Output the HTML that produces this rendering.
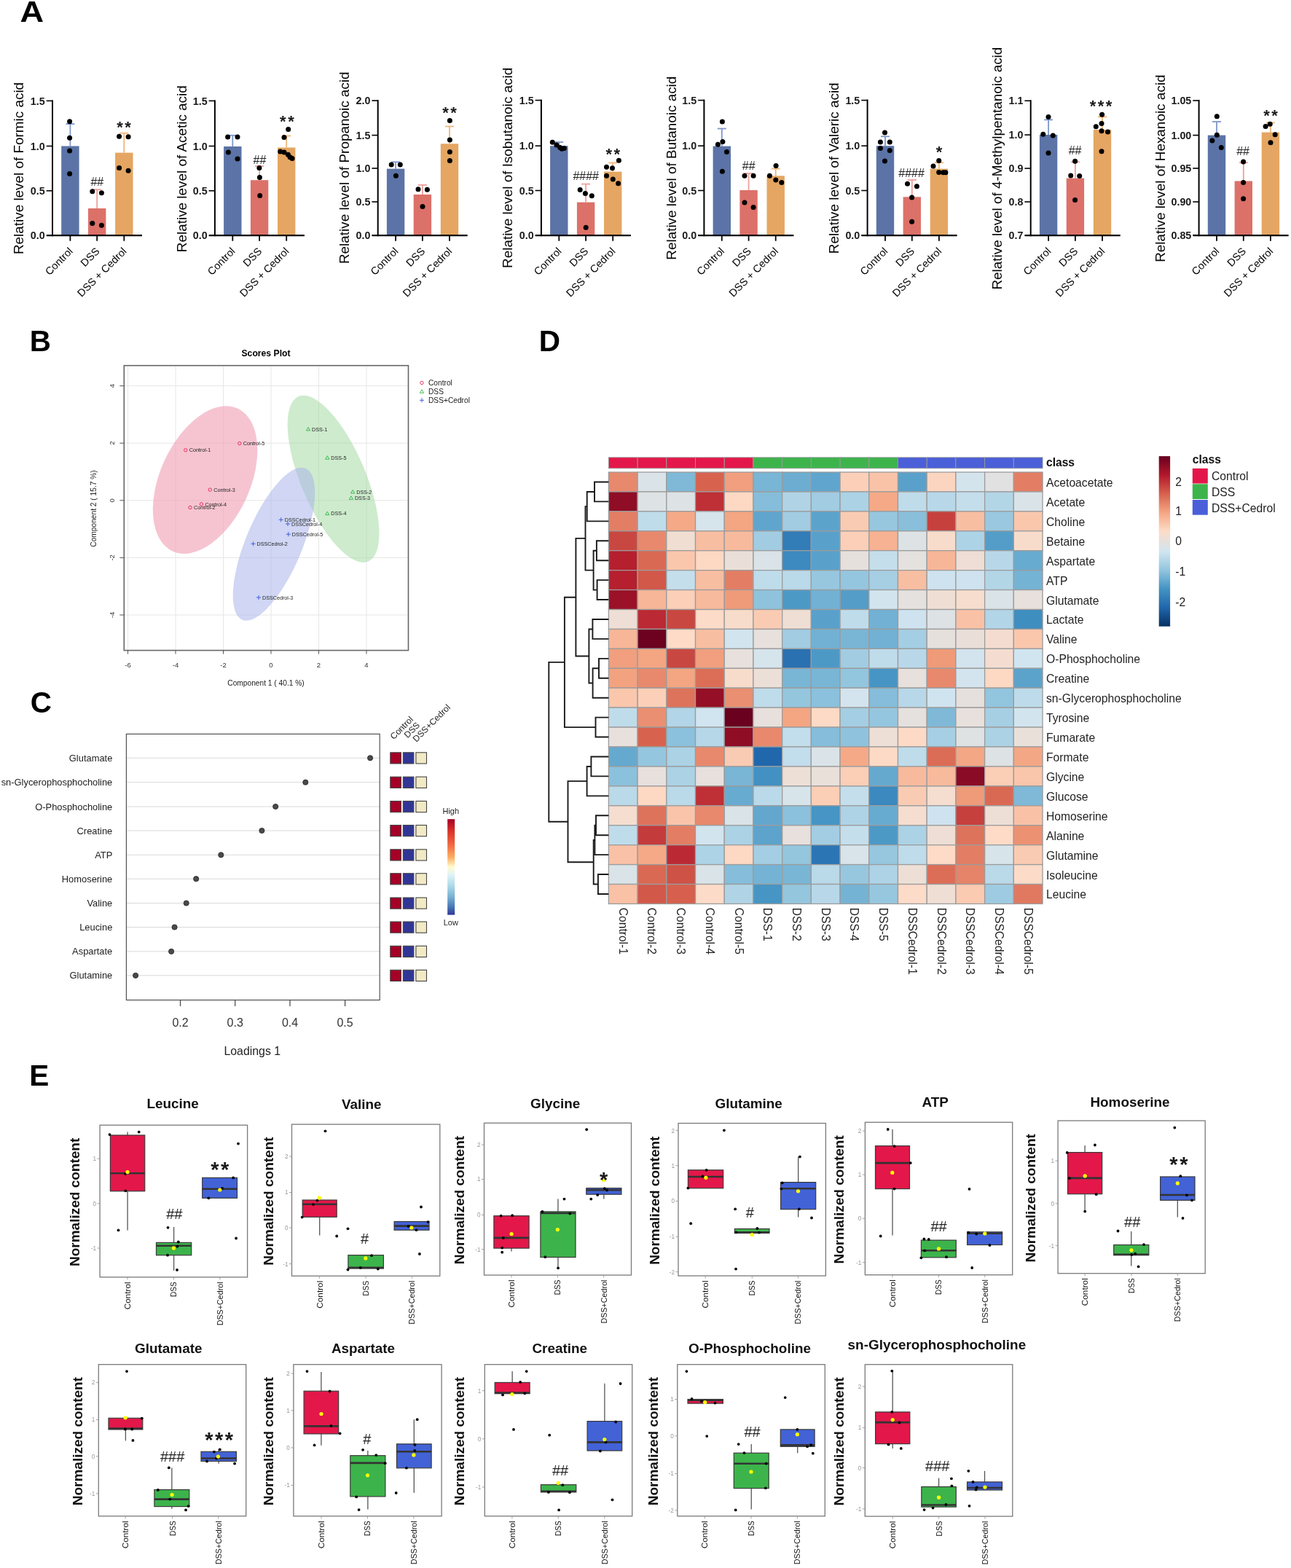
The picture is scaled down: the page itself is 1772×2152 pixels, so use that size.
<!DOCTYPE html>
<html><head><meta charset="utf-8"><title>Figure</title>
<style>html,body{margin:0;padding:0;background:#fff;}svg{display:block;}
text{font-family:'Liberation Sans',Arial,sans-serif;}</style></head>
<body><svg width="1772" height="2152" viewBox="0 0 1772 2152">
<rect width="1772" height="2152" fill="#fff"/>
<text x="27.6" y="29.95" font-size="40.5" font-weight="bold" textLength="32.6" lengthAdjust="spacingAndGlyphs">A</text>
<rect x="84.2" y="200.5" width="24.4" height="122.7" fill="#5b73a6"/>
<rect x="121" y="286" width="24.4" height="37.2" fill="#dc7169"/>
<rect x="158.1" y="209.6" width="24.4" height="113.6" fill="#e4a662"/>
<line x1="96.4" y1="200.5" x2="96.4" y2="170.1" stroke="#7e98cc" stroke-width="1.8"/>
<line x1="90.4" y1="170.1" x2="102.4" y2="170.1" stroke="#7e98cc" stroke-width="1.8"/>
<line x1="133.2" y1="286" x2="133.2" y2="260.2" stroke="#eea09c" stroke-width="1.8"/>
<line x1="127.2" y1="260.2" x2="139.2" y2="260.2" stroke="#eea09c" stroke-width="1.8"/>
<line x1="170.3" y1="209.6" x2="170.3" y2="182.7" stroke="#f1b577" stroke-width="1.8"/>
<line x1="164.3" y1="182.7" x2="176.3" y2="182.7" stroke="#f1b577" stroke-width="1.8"/>
<circle cx="95.6" cy="166.8" r="3.5" fill="#000"/>
<circle cx="95.6" cy="189.3" r="3.5" fill="#000"/>
<circle cx="95.6" cy="207" r="3.5" fill="#000"/>
<circle cx="95.6" cy="238.4" r="3.5" fill="#000"/>
<circle cx="126.8" cy="262.7" r="3.5" fill="#000"/>
<circle cx="139.4" cy="264.7" r="3.5" fill="#000"/>
<circle cx="126.8" cy="306.5" r="3.5" fill="#000"/>
<circle cx="139.4" cy="309.2" r="3.5" fill="#000"/>
<circle cx="163.6" cy="187.3" r="3.5" fill="#000"/>
<circle cx="176.1" cy="187.7" r="3.5" fill="#000"/>
<circle cx="163.6" cy="230.5" r="3.5" fill="#000"/>
<circle cx="176.1" cy="234.3" r="3.5" fill="#000"/>
<line x1="72" y1="137.4" x2="72" y2="324.2" stroke="#000" stroke-width="2"/>
<line x1="64" y1="323.2" x2="195" y2="323.2" stroke="#000" stroke-width="2.2"/>
<line x1="63.7" y1="138.4" x2="72" y2="138.4" stroke="#000" stroke-width="1.6"/>
<text x="61.7" y="143.55" font-size="14.3" text-anchor="end" font-weight="bold" fill="#1a1a1a">1.5</text>
<line x1="63.7" y1="200.5" x2="72" y2="200.5" stroke="#000" stroke-width="1.6"/>
<text x="61.7" y="205.65" font-size="14.3" text-anchor="end" font-weight="bold" fill="#1a1a1a">1.0</text>
<line x1="63.7" y1="261.8" x2="72" y2="261.8" stroke="#000" stroke-width="1.6"/>
<text x="61.7" y="266.95" font-size="14.3" text-anchor="end" font-weight="bold" fill="#1a1a1a">0.5</text>
<line x1="63.7" y1="323.2" x2="72" y2="323.2" stroke="#000" stroke-width="1.6"/>
<text x="61.7" y="328.35" font-size="14.3" text-anchor="end" font-weight="bold" fill="#1a1a1a">0.0</text>
<line x1="96.4" y1="323.2" x2="96.4" y2="330.7" stroke="#000" stroke-width="1.8"/>
<line x1="133.2" y1="323.2" x2="133.2" y2="330.7" stroke="#000" stroke-width="1.8"/>
<line x1="170.3" y1="323.2" x2="170.3" y2="330.7" stroke="#000" stroke-width="1.8"/>
<text transform="translate(100.7 345.7) rotate(-45)" font-size="14.4" text-anchor="end">Control</text>
<text transform="translate(137.5 345.7) rotate(-45)" font-size="14.4" text-anchor="end">DSS</text>
<text transform="translate(174.6 345.7) rotate(-45)" font-size="14.4" text-anchor="end">DSS + Cedrol</text>
<text x="133.3" y="255.26" font-size="16" text-anchor="middle" fill="#222">##</text>
<text x="171.25" y="181.9" font-size="22" text-anchor="middle" font-weight="bold" fill="#1a1a1a" letter-spacing="2.5">**</text>
<text transform="translate(32.41 231) rotate(-90)" font-size="18.9" text-anchor="middle">Relative level of Formic acid</text>
<rect x="307.1" y="201" width="24.4" height="122.2" fill="#5b73a6"/>
<rect x="343.9" y="247.2" width="24.4" height="76" fill="#dc7169"/>
<rect x="381" y="202.5" width="24.4" height="120.7" fill="#e4a662"/>
<line x1="319.3" y1="201" x2="319.3" y2="185.8" stroke="#7e98cc" stroke-width="1.8"/>
<line x1="313.3" y1="185.8" x2="325.3" y2="185.8" stroke="#7e98cc" stroke-width="1.8"/>
<line x1="356.1" y1="247.2" x2="356.1" y2="228" stroke="#eea09c" stroke-width="1.8"/>
<line x1="350.1" y1="228" x2="362.1" y2="228" stroke="#eea09c" stroke-width="1.8"/>
<line x1="393.2" y1="202.5" x2="393.2" y2="186.5" stroke="#f1b577" stroke-width="1.8"/>
<line x1="387.2" y1="186.5" x2="399.2" y2="186.5" stroke="#f1b577" stroke-width="1.8"/>
<circle cx="312.6" cy="188" r="3.5" fill="#000"/>
<circle cx="326" cy="188" r="3.5" fill="#000"/>
<circle cx="313.4" cy="209" r="3.5" fill="#000"/>
<circle cx="326" cy="218.1" r="3.5" fill="#000"/>
<circle cx="355.9" cy="230.6" r="3.5" fill="#000"/>
<circle cx="356.4" cy="243.5" r="3.5" fill="#000"/>
<circle cx="356.7" cy="268.5" r="3.5" fill="#000"/>
<circle cx="395.7" cy="177.4" r="3.5" fill="#000"/>
<circle cx="390" cy="188.5" r="3.5" fill="#000"/>
<circle cx="384.7" cy="208.1" r="3.5" fill="#000"/>
<circle cx="390" cy="209" r="3.5" fill="#000"/>
<circle cx="395.4" cy="212.3" r="3.5" fill="#000"/>
<circle cx="398.1" cy="215.7" r="3.5" fill="#000"/>
<circle cx="401.1" cy="217.6" r="3.5" fill="#000"/>
<line x1="294.9" y1="137.4" x2="294.9" y2="324.2" stroke="#000" stroke-width="2"/>
<line x1="286.9" y1="323.2" x2="417.9" y2="323.2" stroke="#000" stroke-width="2.2"/>
<line x1="286.6" y1="138.4" x2="294.9" y2="138.4" stroke="#000" stroke-width="1.6"/>
<text x="284.6" y="143.55" font-size="14.3" text-anchor="end" font-weight="bold" fill="#1a1a1a">1.5</text>
<line x1="286.6" y1="200.5" x2="294.9" y2="200.5" stroke="#000" stroke-width="1.6"/>
<text x="284.6" y="205.65" font-size="14.3" text-anchor="end" font-weight="bold" fill="#1a1a1a">1.0</text>
<line x1="286.6" y1="261.8" x2="294.9" y2="261.8" stroke="#000" stroke-width="1.6"/>
<text x="284.6" y="266.95" font-size="14.3" text-anchor="end" font-weight="bold" fill="#1a1a1a">0.5</text>
<line x1="286.6" y1="323.2" x2="294.9" y2="323.2" stroke="#000" stroke-width="1.6"/>
<text x="284.6" y="328.35" font-size="14.3" text-anchor="end" font-weight="bold" fill="#1a1a1a">0.0</text>
<line x1="319.3" y1="323.2" x2="319.3" y2="330.7" stroke="#000" stroke-width="1.8"/>
<line x1="356.1" y1="323.2" x2="356.1" y2="330.7" stroke="#000" stroke-width="1.8"/>
<line x1="393.2" y1="323.2" x2="393.2" y2="330.7" stroke="#000" stroke-width="1.8"/>
<text transform="translate(323.6 345.7) rotate(-45)" font-size="14.4" text-anchor="end">Control</text>
<text transform="translate(360.4 345.7) rotate(-45)" font-size="14.4" text-anchor="end">DSS</text>
<text transform="translate(397.5 345.7) rotate(-45)" font-size="14.4" text-anchor="end">DSS + Cedrol</text>
<text x="356.4" y="224.96" font-size="16" text-anchor="middle" fill="#222">##</text>
<text x="395.15" y="174.3" font-size="22" text-anchor="middle" font-weight="bold" fill="#1a1a1a" letter-spacing="2.5">**</text>
<text transform="translate(256.21 231.7) rotate(-90)" font-size="18.9" text-anchor="middle">Relative level of Acetic acid</text>
<rect x="530.9" y="231.6" width="24.4" height="91.6" fill="#5b73a6"/>
<rect x="567.7" y="267" width="24.4" height="56.2" fill="#dc7169"/>
<rect x="604.8" y="197.3" width="24.4" height="125.9" fill="#e4a662"/>
<line x1="543.1" y1="231.6" x2="543.1" y2="222.3" stroke="#7e98cc" stroke-width="1.8"/>
<line x1="537.1" y1="222.3" x2="549.1" y2="222.3" stroke="#7e98cc" stroke-width="1.8"/>
<line x1="579.9" y1="267" x2="579.9" y2="253.9" stroke="#eea09c" stroke-width="1.8"/>
<line x1="573.9" y1="253.9" x2="585.9" y2="253.9" stroke="#eea09c" stroke-width="1.8"/>
<line x1="617" y1="197.3" x2="617" y2="173.5" stroke="#f1b577" stroke-width="1.8"/>
<line x1="611" y1="173.5" x2="623" y2="173.5" stroke="#f1b577" stroke-width="1.8"/>
<circle cx="537.2" cy="226" r="3.5" fill="#000"/>
<circle cx="549.3" cy="226" r="3.5" fill="#000"/>
<circle cx="543.4" cy="241.3" r="3.5" fill="#000"/>
<circle cx="574" cy="259.8" r="3.5" fill="#000"/>
<circle cx="586.4" cy="260.3" r="3.5" fill="#000"/>
<circle cx="580" cy="283.5" r="3.5" fill="#000"/>
<circle cx="617.4" cy="165.5" r="3.5" fill="#000"/>
<circle cx="617.4" cy="192.1" r="3.5" fill="#000"/>
<circle cx="617.4" cy="208.5" r="3.5" fill="#000"/>
<circle cx="617.4" cy="220.6" r="3.5" fill="#000"/>
<line x1="518.7" y1="137.1" x2="518.7" y2="324.2" stroke="#000" stroke-width="2"/>
<line x1="510.7" y1="323.2" x2="641.7" y2="323.2" stroke="#000" stroke-width="2.2"/>
<line x1="510.4" y1="138.1" x2="518.7" y2="138.1" stroke="#000" stroke-width="1.6"/>
<text x="508.4" y="143.25" font-size="14.3" text-anchor="end" font-weight="bold" fill="#1a1a1a">2.0</text>
<line x1="510.4" y1="185.6" x2="518.7" y2="185.6" stroke="#000" stroke-width="1.6"/>
<text x="508.4" y="190.75" font-size="14.3" text-anchor="end" font-weight="bold" fill="#1a1a1a">1.5</text>
<line x1="510.4" y1="231" x2="518.7" y2="231" stroke="#000" stroke-width="1.6"/>
<text x="508.4" y="236.15" font-size="14.3" text-anchor="end" font-weight="bold" fill="#1a1a1a">1.0</text>
<line x1="510.4" y1="277" x2="518.7" y2="277" stroke="#000" stroke-width="1.6"/>
<text x="508.4" y="282.15" font-size="14.3" text-anchor="end" font-weight="bold" fill="#1a1a1a">0.5</text>
<line x1="510.4" y1="322.9" x2="518.7" y2="322.9" stroke="#000" stroke-width="1.6"/>
<text x="508.4" y="328.05" font-size="14.3" text-anchor="end" font-weight="bold" fill="#1a1a1a">0.0</text>
<line x1="543.1" y1="323.2" x2="543.1" y2="330.7" stroke="#000" stroke-width="1.8"/>
<line x1="579.9" y1="323.2" x2="579.9" y2="330.7" stroke="#000" stroke-width="1.8"/>
<line x1="617" y1="323.2" x2="617" y2="330.7" stroke="#000" stroke-width="1.8"/>
<text transform="translate(547.4 345.7) rotate(-45)" font-size="14.4" text-anchor="end">Control</text>
<text transform="translate(584.2 345.7) rotate(-45)" font-size="14.4" text-anchor="end">DSS</text>
<text transform="translate(621.3 345.7) rotate(-45)" font-size="14.4" text-anchor="end">DSS + Cedrol</text>
<text x="618.25" y="162.4" font-size="22" text-anchor="middle" font-weight="bold" fill="#1a1a1a" letter-spacing="2.5">**</text>
<text transform="translate(479.31 230.3) rotate(-90)" font-size="18.9" text-anchor="middle">Relative level of Propanoic acid</text>
<rect x="755.1" y="200.2" width="24.4" height="123" fill="#5b73a6"/>
<rect x="791.9" y="277.6" width="24.4" height="45.6" fill="#dc7169"/>
<rect x="829" y="235.6" width="24.4" height="87.6" fill="#e4a662"/>
<line x1="767.3" y1="200.2" x2="767.3" y2="195" stroke="#7e98cc" stroke-width="1.8"/>
<line x1="761.3" y1="195" x2="773.3" y2="195" stroke="#7e98cc" stroke-width="1.8"/>
<line x1="804.1" y1="277.6" x2="804.1" y2="252.6" stroke="#eea09c" stroke-width="1.8"/>
<line x1="798.1" y1="252.6" x2="810.1" y2="252.6" stroke="#eea09c" stroke-width="1.8"/>
<line x1="841.2" y1="235.6" x2="841.2" y2="223.5" stroke="#f1b577" stroke-width="1.8"/>
<line x1="835.2" y1="223.5" x2="847.2" y2="223.5" stroke="#f1b577" stroke-width="1.8"/>
<circle cx="758.3" cy="195.3" r="3.5" fill="#000"/>
<circle cx="763.9" cy="199" r="3.5" fill="#000"/>
<circle cx="768.7" cy="202.6" r="3.5" fill="#000"/>
<circle cx="774.4" cy="203.4" r="3.5" fill="#000"/>
<circle cx="771.2" cy="204.2" r="3.5" fill="#000"/>
<circle cx="796.2" cy="260.6" r="3.5" fill="#000"/>
<circle cx="803.4" cy="265.5" r="3.5" fill="#000"/>
<circle cx="812.3" cy="268.7" r="3.5" fill="#000"/>
<circle cx="804.2" cy="312.3" r="3.5" fill="#000"/>
<circle cx="832.5" cy="229.2" r="3.5" fill="#000"/>
<circle cx="840.5" cy="230.8" r="3.5" fill="#000"/>
<circle cx="849.4" cy="220.3" r="3.5" fill="#000"/>
<circle cx="832.5" cy="241.3" r="3.5" fill="#000"/>
<circle cx="841.3" cy="246.1" r="3.5" fill="#000"/>
<circle cx="848.6" cy="251.8" r="3.5" fill="#000"/>
<line x1="742.9" y1="136.6" x2="742.9" y2="324.2" stroke="#000" stroke-width="2"/>
<line x1="734.9" y1="323.2" x2="865.9" y2="323.2" stroke="#000" stroke-width="2.2"/>
<line x1="734.6" y1="137.6" x2="742.9" y2="137.6" stroke="#000" stroke-width="1.6"/>
<text x="732.6" y="142.75" font-size="14.3" text-anchor="end" font-weight="bold" fill="#1a1a1a">1.5</text>
<line x1="734.6" y1="200.2" x2="742.9" y2="200.2" stroke="#000" stroke-width="1.6"/>
<text x="732.6" y="205.35" font-size="14.3" text-anchor="end" font-weight="bold" fill="#1a1a1a">1.0</text>
<line x1="734.6" y1="261.5" x2="742.9" y2="261.5" stroke="#000" stroke-width="1.6"/>
<text x="732.6" y="266.65" font-size="14.3" text-anchor="end" font-weight="bold" fill="#1a1a1a">0.5</text>
<line x1="734.6" y1="322.9" x2="742.9" y2="322.9" stroke="#000" stroke-width="1.6"/>
<text x="732.6" y="328.05" font-size="14.3" text-anchor="end" font-weight="bold" fill="#1a1a1a">0.0</text>
<line x1="767.3" y1="323.2" x2="767.3" y2="330.7" stroke="#000" stroke-width="1.8"/>
<line x1="804.1" y1="323.2" x2="804.1" y2="330.7" stroke="#000" stroke-width="1.8"/>
<line x1="841.2" y1="323.2" x2="841.2" y2="330.7" stroke="#000" stroke-width="1.8"/>
<text transform="translate(771.6 345.7) rotate(-45)" font-size="14.4" text-anchor="end">Control</text>
<text transform="translate(808.4 345.7) rotate(-45)" font-size="14.4" text-anchor="end">DSS</text>
<text transform="translate(845.5 345.7) rotate(-45)" font-size="14.4" text-anchor="end">DSS + Cedrol</text>
<text x="804.2" y="247.06" font-size="16" text-anchor="middle" fill="#222">####</text>
<text x="842.55" y="218.8" font-size="22" text-anchor="middle" font-weight="bold" fill="#1a1a1a" letter-spacing="2.5">**</text>
<text transform="translate(702.62 230.4) rotate(-90)" font-size="18.9" text-anchor="middle">Relative level of Isobutanoic acid</text>
<rect x="978.6" y="200.6" width="24.4" height="122.6" fill="#5b73a6"/>
<rect x="1015.4" y="261" width="24.4" height="62.2" fill="#dc7169"/>
<rect x="1052.5" y="241.3" width="24.4" height="81.9" fill="#e4a662"/>
<line x1="990.8" y1="200.6" x2="990.8" y2="176.5" stroke="#7e98cc" stroke-width="1.8"/>
<line x1="984.8" y1="176.5" x2="996.8" y2="176.5" stroke="#7e98cc" stroke-width="1.8"/>
<line x1="1027.6" y1="261" x2="1027.6" y2="238" stroke="#eea09c" stroke-width="1.8"/>
<line x1="1021.6" y1="238" x2="1033.6" y2="238" stroke="#eea09c" stroke-width="1.8"/>
<line x1="1064.7" y1="241.3" x2="1064.7" y2="231.6" stroke="#f1b577" stroke-width="1.8"/>
<line x1="1058.7" y1="231.6" x2="1070.7" y2="231.6" stroke="#f1b577" stroke-width="1.8"/>
<circle cx="991.4" cy="167.1" r="3.5" fill="#000"/>
<circle cx="985.4" cy="198.2" r="3.5" fill="#000"/>
<circle cx="991.9" cy="194.5" r="3.5" fill="#000"/>
<circle cx="997.5" cy="208.5" r="3.5" fill="#000"/>
<circle cx="991.4" cy="235.2" r="3.5" fill="#000"/>
<circle cx="1022" cy="241.3" r="3.5" fill="#000"/>
<circle cx="1034.1" cy="241.3" r="3.5" fill="#000"/>
<circle cx="1022" cy="278.1" r="3.5" fill="#000"/>
<circle cx="1034.1" cy="284.5" r="3.5" fill="#000"/>
<circle cx="1065.1" cy="227.6" r="3.5" fill="#000"/>
<circle cx="1056.4" cy="241.3" r="3.5" fill="#000"/>
<circle cx="1064.8" cy="246.9" r="3.5" fill="#000"/>
<circle cx="1072.8" cy="250.6" r="3.5" fill="#000"/>
<line x1="966.4" y1="136.6" x2="966.4" y2="324.2" stroke="#000" stroke-width="2"/>
<line x1="958.4" y1="323.2" x2="1089.4" y2="323.2" stroke="#000" stroke-width="2.2"/>
<line x1="958.1" y1="137.6" x2="966.4" y2="137.6" stroke="#000" stroke-width="1.6"/>
<text x="956.1" y="142.75" font-size="14.3" text-anchor="end" font-weight="bold" fill="#1a1a1a">1.5</text>
<line x1="958.1" y1="200.2" x2="966.4" y2="200.2" stroke="#000" stroke-width="1.6"/>
<text x="956.1" y="205.35" font-size="14.3" text-anchor="end" font-weight="bold" fill="#1a1a1a">1.0</text>
<line x1="958.1" y1="261.5" x2="966.4" y2="261.5" stroke="#000" stroke-width="1.6"/>
<text x="956.1" y="266.65" font-size="14.3" text-anchor="end" font-weight="bold" fill="#1a1a1a">0.5</text>
<line x1="958.1" y1="322.9" x2="966.4" y2="322.9" stroke="#000" stroke-width="1.6"/>
<text x="956.1" y="328.05" font-size="14.3" text-anchor="end" font-weight="bold" fill="#1a1a1a">0.0</text>
<line x1="990.8" y1="323.2" x2="990.8" y2="330.7" stroke="#000" stroke-width="1.8"/>
<line x1="1027.6" y1="323.2" x2="1027.6" y2="330.7" stroke="#000" stroke-width="1.8"/>
<line x1="1064.7" y1="323.2" x2="1064.7" y2="330.7" stroke="#000" stroke-width="1.8"/>
<text transform="translate(995.1 345.7) rotate(-45)" font-size="14.4" text-anchor="end">Control</text>
<text transform="translate(1031.9 345.7) rotate(-45)" font-size="14.4" text-anchor="end">DSS</text>
<text transform="translate(1069 345.7) rotate(-45)" font-size="14.4" text-anchor="end">DSS + Cedrol</text>
<text x="1027.7" y="233.36" font-size="16" text-anchor="middle" fill="#222">##</text>
<text transform="translate(927.82 230.7) rotate(-90)" font-size="18.9" text-anchor="middle">Relative level of Butanoic acid</text>
<rect x="1202.8" y="200.2" width="24.4" height="123" fill="#5b73a6"/>
<rect x="1239.6" y="270.3" width="24.4" height="52.9" fill="#dc7169"/>
<rect x="1276.7" y="231.6" width="24.4" height="91.6" fill="#e4a662"/>
<line x1="1215" y1="200.2" x2="1215" y2="187.3" stroke="#7e98cc" stroke-width="1.8"/>
<line x1="1209" y1="187.3" x2="1221" y2="187.3" stroke="#7e98cc" stroke-width="1.8"/>
<line x1="1251.8" y1="270.3" x2="1251.8" y2="247" stroke="#eea09c" stroke-width="1.8"/>
<line x1="1245.8" y1="247" x2="1257.8" y2="247" stroke="#eea09c" stroke-width="1.8"/>
<line x1="1288.9" y1="231.6" x2="1288.9" y2="223.2" stroke="#f1b577" stroke-width="1.8"/>
<line x1="1282.9" y1="223.2" x2="1294.9" y2="223.2" stroke="#f1b577" stroke-width="1.8"/>
<circle cx="1214.5" cy="182.1" r="3.5" fill="#000"/>
<circle cx="1208.4" cy="195" r="3.5" fill="#000"/>
<circle cx="1221.3" cy="195" r="3.5" fill="#000"/>
<circle cx="1208.4" cy="203.4" r="3.5" fill="#000"/>
<circle cx="1221.3" cy="206.6" r="3.5" fill="#000"/>
<circle cx="1214.5" cy="221.1" r="3.5" fill="#000"/>
<circle cx="1245.5" cy="252.3" r="3.5" fill="#000"/>
<circle cx="1258.4" cy="255.8" r="3.5" fill="#000"/>
<circle cx="1251.6" cy="271.1" r="3.5" fill="#000"/>
<circle cx="1251.6" cy="304.2" r="3.5" fill="#000"/>
<circle cx="1281" cy="228.1" r="3.5" fill="#000"/>
<circle cx="1288.7" cy="220.6" r="3.5" fill="#000"/>
<circle cx="1288.7" cy="236.5" r="3.5" fill="#000"/>
<circle cx="1294.7" cy="236.8" r="3.5" fill="#000"/>
<circle cx="1297.9" cy="236.8" r="3.5" fill="#000"/>
<line x1="1190.6" y1="136.6" x2="1190.6" y2="324.2" stroke="#000" stroke-width="2"/>
<line x1="1182.6" y1="323.2" x2="1313.6" y2="323.2" stroke="#000" stroke-width="2.2"/>
<line x1="1182.3" y1="137.6" x2="1190.6" y2="137.6" stroke="#000" stroke-width="1.6"/>
<text x="1180.3" y="142.75" font-size="14.3" text-anchor="end" font-weight="bold" fill="#1a1a1a">1.5</text>
<line x1="1182.3" y1="200.2" x2="1190.6" y2="200.2" stroke="#000" stroke-width="1.6"/>
<text x="1180.3" y="205.35" font-size="14.3" text-anchor="end" font-weight="bold" fill="#1a1a1a">1.0</text>
<line x1="1182.3" y1="261.5" x2="1190.6" y2="261.5" stroke="#000" stroke-width="1.6"/>
<text x="1180.3" y="266.65" font-size="14.3" text-anchor="end" font-weight="bold" fill="#1a1a1a">0.5</text>
<line x1="1182.3" y1="322.9" x2="1190.6" y2="322.9" stroke="#000" stroke-width="1.6"/>
<text x="1180.3" y="328.05" font-size="14.3" text-anchor="end" font-weight="bold" fill="#1a1a1a">0.0</text>
<line x1="1215" y1="323.2" x2="1215" y2="330.7" stroke="#000" stroke-width="1.8"/>
<line x1="1251.8" y1="323.2" x2="1251.8" y2="330.7" stroke="#000" stroke-width="1.8"/>
<line x1="1288.9" y1="323.2" x2="1288.9" y2="330.7" stroke="#000" stroke-width="1.8"/>
<text transform="translate(1219.3 345.7) rotate(-45)" font-size="14.4" text-anchor="end">Control</text>
<text transform="translate(1256.1 345.7) rotate(-45)" font-size="14.4" text-anchor="end">DSS</text>
<text transform="translate(1293.2 345.7) rotate(-45)" font-size="14.4" text-anchor="end">DSS + Cedrol</text>
<text x="1251.1" y="243.06" font-size="16" text-anchor="middle" fill="#222">####</text>
<text x="1290.25" y="215.6" font-size="22" text-anchor="middle" font-weight="bold" fill="#1a1a1a" letter-spacing="2.5">*</text>
<text transform="translate(1151.32 230.8) rotate(-90)" font-size="18.9" text-anchor="middle">Relative level of Valeric acid</text>
<rect x="1426.9" y="185" width="24.4" height="138.2" fill="#5b73a6"/>
<rect x="1463.7" y="244.6" width="24.4" height="78.6" fill="#dc7169"/>
<rect x="1500.8" y="178" width="24.4" height="145.2" fill="#e4a662"/>
<line x1="1439.1" y1="185" x2="1439.1" y2="164.4" stroke="#7e98cc" stroke-width="1.8"/>
<line x1="1433.1" y1="164.4" x2="1445.1" y2="164.4" stroke="#7e98cc" stroke-width="1.8"/>
<line x1="1475.9" y1="244.6" x2="1475.9" y2="222.4" stroke="#eea09c" stroke-width="1.8"/>
<line x1="1469.9" y1="222.4" x2="1481.9" y2="222.4" stroke="#eea09c" stroke-width="1.8"/>
<line x1="1513" y1="178" x2="1513" y2="160.4" stroke="#f1b577" stroke-width="1.8"/>
<line x1="1507" y1="160.4" x2="1519" y2="160.4" stroke="#f1b577" stroke-width="1.8"/>
<circle cx="1439" cy="160.4" r="3.5" fill="#000"/>
<circle cx="1431.8" cy="184.2" r="3.5" fill="#000"/>
<circle cx="1445.3" cy="186" r="3.5" fill="#000"/>
<circle cx="1439" cy="210" r="3.5" fill="#000"/>
<circle cx="1475.6" cy="221.2" r="3.5" fill="#000"/>
<circle cx="1469.7" cy="241" r="3.5" fill="#000"/>
<circle cx="1481.7" cy="241.5" r="3.5" fill="#000"/>
<circle cx="1475.6" cy="274.4" r="3.5" fill="#000"/>
<circle cx="1512.6" cy="157.2" r="3.5" fill="#000"/>
<circle cx="1512" cy="169.4" r="3.5" fill="#000"/>
<circle cx="1504.3" cy="173.8" r="3.5" fill="#000"/>
<circle cx="1512" cy="179.7" r="3.5" fill="#000"/>
<circle cx="1520.5" cy="181" r="3.5" fill="#000"/>
<circle cx="1512" cy="207.7" r="3.5" fill="#000"/>
<line x1="1414.7" y1="137.3" x2="1414.7" y2="324.2" stroke="#000" stroke-width="2"/>
<line x1="1406.7" y1="323.2" x2="1537.7" y2="323.2" stroke="#000" stroke-width="2.2"/>
<line x1="1406.4" y1="138.3" x2="1414.7" y2="138.3" stroke="#000" stroke-width="1.6"/>
<text x="1404.4" y="143.45" font-size="14.3" text-anchor="end" font-weight="bold" fill="#1a1a1a">1.1</text>
<line x1="1406.4" y1="185.1" x2="1414.7" y2="185.1" stroke="#000" stroke-width="1.6"/>
<text x="1404.4" y="190.25" font-size="14.3" text-anchor="end" font-weight="bold" fill="#1a1a1a">1.0</text>
<line x1="1406.4" y1="231.1" x2="1414.7" y2="231.1" stroke="#000" stroke-width="1.6"/>
<text x="1404.4" y="236.25" font-size="14.3" text-anchor="end" font-weight="bold" fill="#1a1a1a">0.9</text>
<line x1="1406.4" y1="277" x2="1414.7" y2="277" stroke="#000" stroke-width="1.6"/>
<text x="1404.4" y="282.15" font-size="14.3" text-anchor="end" font-weight="bold" fill="#1a1a1a">0.8</text>
<line x1="1406.4" y1="323" x2="1414.7" y2="323" stroke="#000" stroke-width="1.6"/>
<text x="1404.4" y="328.15" font-size="14.3" text-anchor="end" font-weight="bold" fill="#1a1a1a">0.7</text>
<line x1="1439.1" y1="323.2" x2="1439.1" y2="330.7" stroke="#000" stroke-width="1.8"/>
<line x1="1475.9" y1="323.2" x2="1475.9" y2="330.7" stroke="#000" stroke-width="1.8"/>
<line x1="1513" y1="323.2" x2="1513" y2="330.7" stroke="#000" stroke-width="1.8"/>
<text transform="translate(1443.4 345.7) rotate(-45)" font-size="14.4" text-anchor="end">Control</text>
<text transform="translate(1480.2 345.7) rotate(-45)" font-size="14.4" text-anchor="end">DSS</text>
<text transform="translate(1517.3 345.7) rotate(-45)" font-size="14.4" text-anchor="end">DSS + Cedrol</text>
<text x="1475.6" y="211.66" font-size="16" text-anchor="middle" fill="#222">##</text>
<text x="1512.35" y="152.6" font-size="22" text-anchor="middle" font-weight="bold" fill="#1a1a1a" letter-spacing="2.5">***</text>
<text transform="translate(1375.32 231.1) rotate(-90)" font-size="18.9" text-anchor="middle">Relative level of 4-Methylpentanoic acid</text>
<rect x="1657.8" y="185.6" width="24.4" height="137.6" fill="#5b73a6"/>
<rect x="1694.6" y="248.5" width="24.4" height="74.7" fill="#dc7169"/>
<rect x="1731.7" y="181.6" width="24.4" height="141.6" fill="#e4a662"/>
<line x1="1670" y1="185.6" x2="1670" y2="167" stroke="#7e98cc" stroke-width="1.8"/>
<line x1="1664" y1="167" x2="1676" y2="167" stroke="#7e98cc" stroke-width="1.8"/>
<line x1="1706.8" y1="248.5" x2="1706.8" y2="223.2" stroke="#eea09c" stroke-width="1.8"/>
<line x1="1700.8" y1="223.2" x2="1712.8" y2="223.2" stroke="#eea09c" stroke-width="1.8"/>
<line x1="1743.9" y1="181.6" x2="1743.9" y2="168.4" stroke="#f1b577" stroke-width="1.8"/>
<line x1="1737.9" y1="168.4" x2="1749.9" y2="168.4" stroke="#f1b577" stroke-width="1.8"/>
<circle cx="1670.3" cy="159.8" r="3.5" fill="#000"/>
<circle cx="1670.3" cy="185.2" r="3.5" fill="#000"/>
<circle cx="1663.9" cy="192.9" r="3.5" fill="#000"/>
<circle cx="1676.3" cy="202.6" r="3.5" fill="#000"/>
<circle cx="1706.6" cy="221.9" r="3.5" fill="#000"/>
<circle cx="1706.6" cy="250.6" r="3.5" fill="#000"/>
<circle cx="1706.6" cy="272.7" r="3.5" fill="#000"/>
<circle cx="1743.2" cy="170.3" r="3.5" fill="#000"/>
<circle cx="1737.1" cy="173.5" r="3.5" fill="#000"/>
<circle cx="1750.2" cy="184.8" r="3.5" fill="#000"/>
<circle cx="1744" cy="195.8" r="3.5" fill="#000"/>
<line x1="1645.6" y1="137" x2="1645.6" y2="324.2" stroke="#000" stroke-width="2"/>
<line x1="1637.6" y1="323.2" x2="1768.6" y2="323.2" stroke="#000" stroke-width="2.2"/>
<line x1="1637.3" y1="138" x2="1645.6" y2="138" stroke="#000" stroke-width="1.6"/>
<text x="1635.3" y="143.15" font-size="14.3" text-anchor="end" font-weight="bold" fill="#1a1a1a">1.05</text>
<line x1="1637.3" y1="185.6" x2="1645.6" y2="185.6" stroke="#000" stroke-width="1.6"/>
<text x="1635.3" y="190.75" font-size="14.3" text-anchor="end" font-weight="bold" fill="#1a1a1a">1.00</text>
<line x1="1637.3" y1="231" x2="1645.6" y2="231" stroke="#000" stroke-width="1.6"/>
<text x="1635.3" y="236.15" font-size="14.3" text-anchor="end" font-weight="bold" fill="#1a1a1a">0.95</text>
<line x1="1637.3" y1="277" x2="1645.6" y2="277" stroke="#000" stroke-width="1.6"/>
<text x="1635.3" y="282.15" font-size="14.3" text-anchor="end" font-weight="bold" fill="#1a1a1a">0.90</text>
<line x1="1637.3" y1="322.7" x2="1645.6" y2="322.7" stroke="#000" stroke-width="1.6"/>
<text x="1635.3" y="327.85" font-size="14.3" text-anchor="end" font-weight="bold" fill="#1a1a1a">0.85</text>
<line x1="1670" y1="323.2" x2="1670" y2="330.7" stroke="#000" stroke-width="1.8"/>
<line x1="1706.8" y1="323.2" x2="1706.8" y2="330.7" stroke="#000" stroke-width="1.8"/>
<line x1="1743.9" y1="323.2" x2="1743.9" y2="330.7" stroke="#000" stroke-width="1.8"/>
<text transform="translate(1674.3 345.7) rotate(-45)" font-size="14.4" text-anchor="end">Control</text>
<text transform="translate(1711.1 345.7) rotate(-45)" font-size="14.4" text-anchor="end">DSS</text>
<text transform="translate(1748.2 345.7) rotate(-45)" font-size="14.4" text-anchor="end">DSS + Cedrol</text>
<text x="1706.1" y="213.16" font-size="16" text-anchor="middle" fill="#222">##</text>
<text x="1745.25" y="166.4" font-size="22" text-anchor="middle" font-weight="bold" fill="#1a1a1a" letter-spacing="2.5">**</text>
<text transform="translate(1599.02 231.2) rotate(-90)" font-size="18.9" text-anchor="middle">Relative level of Hexanoic acid</text>
<text x="40.7" y="481.5" font-size="40.5" font-weight="bold">B</text>
<text x="365" y="488.5" font-size="12.2" text-anchor="middle" font-weight="bold">Scores Plot</text>
<line x1="175.5" y1="501.7" x2="175.5" y2="892.6" stroke="#e6e6e6" stroke-width="1"/>
<line x1="241" y1="501.7" x2="241" y2="892.6" stroke="#e6e6e6" stroke-width="1"/>
<line x1="306.5" y1="501.7" x2="306.5" y2="892.6" stroke="#e6e6e6" stroke-width="1"/>
<line x1="372" y1="501.7" x2="372" y2="892.6" stroke="#e6e6e6" stroke-width="1"/>
<line x1="437.5" y1="501.7" x2="437.5" y2="892.6" stroke="#e6e6e6" stroke-width="1"/>
<line x1="503" y1="501.7" x2="503" y2="892.6" stroke="#e6e6e6" stroke-width="1"/>
<line x1="170.3" y1="529.6" x2="560.5" y2="529.6" stroke="#e6e6e6" stroke-width="1"/>
<line x1="170.3" y1="608.2" x2="560.5" y2="608.2" stroke="#e6e6e6" stroke-width="1"/>
<line x1="170.3" y1="686.8" x2="560.5" y2="686.8" stroke="#e6e6e6" stroke-width="1"/>
<line x1="170.3" y1="765.4" x2="560.5" y2="765.4" stroke="#e6e6e6" stroke-width="1"/>
<line x1="170.3" y1="844" x2="560.5" y2="844" stroke="#e6e6e6" stroke-width="1"/>
<ellipse cx="281.6" cy="658.6" rx="107.7" ry="61.82" transform="rotate(114.39 281.6 658.6)" fill="#f0a0b4" fill-opacity="0.62"/>
<ellipse cx="457.6" cy="657.3" rx="122.94" ry="44.46" transform="rotate(67.16 457.6 657.3)" fill="#a6dba4" fill-opacity="0.55"/>
<ellipse cx="376" cy="746.7" rx="112.63" ry="38.79" transform="rotate(112.66 376 746.7)" fill="#a9b4ea" fill-opacity="0.55"/>
<rect x="170.3" y="501.7" width="390.2" height="390.9" fill="none" stroke="#666" stroke-width="1.6"/>
<line x1="175.5" y1="892.6" x2="175.5" y2="897.6" stroke="#555" stroke-width="1"/>
<text x="175.5" y="915.5" font-size="9.5" text-anchor="middle" fill="#333">-6</text>
<line x1="241" y1="892.6" x2="241" y2="897.6" stroke="#555" stroke-width="1"/>
<text x="241" y="915.5" font-size="9.5" text-anchor="middle" fill="#333">-4</text>
<line x1="306.5" y1="892.6" x2="306.5" y2="897.6" stroke="#555" stroke-width="1"/>
<text x="306.5" y="915.5" font-size="9.5" text-anchor="middle" fill="#333">-2</text>
<line x1="372" y1="892.6" x2="372" y2="897.6" stroke="#555" stroke-width="1"/>
<text x="372" y="915.5" font-size="9.5" text-anchor="middle" fill="#333">0</text>
<line x1="437.5" y1="892.6" x2="437.5" y2="897.6" stroke="#555" stroke-width="1"/>
<text x="437.5" y="915.5" font-size="9.5" text-anchor="middle" fill="#333">2</text>
<line x1="503" y1="892.6" x2="503" y2="897.6" stroke="#555" stroke-width="1"/>
<text x="503" y="915.5" font-size="9.5" text-anchor="middle" fill="#333">4</text>
<line x1="164.3" y1="529.6" x2="170.3" y2="529.6" stroke="#555" stroke-width="1"/>
<text transform="translate(156.5 529.6) rotate(-90)" font-size="9.5" text-anchor="middle" fill="#333">4</text>
<line x1="164.3" y1="608.2" x2="170.3" y2="608.2" stroke="#555" stroke-width="1"/>
<text transform="translate(156.5 608.2) rotate(-90)" font-size="9.5" text-anchor="middle" fill="#333">2</text>
<line x1="164.3" y1="686.8" x2="170.3" y2="686.8" stroke="#555" stroke-width="1"/>
<text transform="translate(156.5 686.8) rotate(-90)" font-size="9.5" text-anchor="middle" fill="#333">0</text>
<line x1="164.3" y1="765.4" x2="170.3" y2="765.4" stroke="#555" stroke-width="1"/>
<text transform="translate(156.5 765.4) rotate(-90)" font-size="9.5" text-anchor="middle" fill="#333">-2</text>
<line x1="164.3" y1="844" x2="170.3" y2="844" stroke="#555" stroke-width="1"/>
<text transform="translate(156.5 844) rotate(-90)" font-size="9.5" text-anchor="middle" fill="#333">-4</text>
<text x="365" y="940.5" font-size="10.2" text-anchor="middle" fill="#222">Component 1 ( 40.1 %)</text>
<text transform="translate(131.8 698) rotate(-90)" font-size="10.2" text-anchor="middle" fill="#222">Component 2 ( 15.7 %)</text>
<circle cx="254.7" cy="617.8" r="2.2" fill="none" stroke="#e8214f" stroke-width="0.9"/>
<text x="259.7" y="620.3" font-size="7.2" fill="#222">Control-1</text>
<circle cx="328.8" cy="608.5" r="2.2" fill="none" stroke="#e8214f" stroke-width="0.9"/>
<text x="333.8" y="611" font-size="7.2" fill="#222">Control-5</text>
<circle cx="288.3" cy="672.1" r="2.2" fill="none" stroke="#e8214f" stroke-width="0.9"/>
<text x="293.3" y="674.6" font-size="7.2" fill="#222">Control-3</text>
<circle cx="276.4" cy="692" r="2.2" fill="none" stroke="#e8214f" stroke-width="0.9"/>
<text x="281.4" y="694.5" font-size="7.2" fill="#222">Control-4</text>
<circle cx="261" cy="696.5" r="2.2" fill="none" stroke="#e8214f" stroke-width="0.9"/>
<text x="266" y="699" font-size="7.2" fill="#222">Control-2</text>
<path d="M423.1 586.4L420.5 590.9L425.7 590.9Z" stroke="#2fb543" stroke-width="0.9" fill="none"/>
<text x="428.1" y="591.5" font-size="7.2" fill="#222">DSS-1</text>
<path d="M449.3 625.7L446.7 630.2L451.9 630.2Z" stroke="#2fb543" stroke-width="0.9" fill="none"/>
<text x="454.3" y="630.8" font-size="7.2" fill="#222">DSS-5</text>
<path d="M484.2 672.5L481.6 677L486.8 677Z" stroke="#2fb543" stroke-width="0.9" fill="none"/>
<text x="489.2" y="677.6" font-size="7.2" fill="#222">DSS-2</text>
<path d="M481.9 680.8L479.3 685.3L484.5 685.3Z" stroke="#2fb543" stroke-width="0.9" fill="none"/>
<text x="486.9" y="685.9" font-size="7.2" fill="#222">DSS-3</text>
<path d="M449.3 702.1L446.7 706.6L451.9 706.6Z" stroke="#2fb543" stroke-width="0.9" fill="none"/>
<text x="454.3" y="707.2" font-size="7.2" fill="#222">DSS-4</text>
<line x1="382.7" y1="713.3" x2="388.7" y2="713.3" stroke="#4060e0" stroke-width="1"/>
<line x1="385.7" y1="710.3" x2="385.7" y2="716.3" stroke="#4060e0" stroke-width="1"/>
<text x="390.7" y="715.8" font-size="7.2" fill="#222">DSSCedrol-1</text>
<line x1="392" y1="719" x2="398" y2="719" stroke="#4060e0" stroke-width="1"/>
<line x1="395" y1="716" x2="395" y2="722" stroke="#4060e0" stroke-width="1"/>
<text x="400" y="721.5" font-size="7.2" fill="#222">DSSCedrol-4</text>
<line x1="392.8" y1="733.2" x2="398.8" y2="733.2" stroke="#4060e0" stroke-width="1"/>
<line x1="395.8" y1="730.2" x2="395.8" y2="736.2" stroke="#4060e0" stroke-width="1"/>
<text x="400.8" y="735.7" font-size="7.2" fill="#222">DSSCedrol-5</text>
<line x1="344.5" y1="746.3" x2="350.5" y2="746.3" stroke="#4060e0" stroke-width="1"/>
<line x1="347.5" y1="743.3" x2="347.5" y2="749.3" stroke="#4060e0" stroke-width="1"/>
<text x="352.5" y="748.8" font-size="7.2" fill="#222">DSSCedrol-2</text>
<line x1="352" y1="820" x2="358" y2="820" stroke="#4060e0" stroke-width="1"/>
<line x1="355" y1="817" x2="355" y2="823" stroke="#4060e0" stroke-width="1"/>
<text x="360" y="822.5" font-size="7.2" fill="#222">DSSCedrol-3</text>
<circle cx="579" cy="525.4" r="2.2" fill="none" stroke="#e8214f" stroke-width="0.9"/>
<path d="M579 534.8L576.4 539.3L581.6 539.3Z" stroke="#2fb543" stroke-width="0.9" fill="none"/>
<line x1="576" y1="549.3" x2="582" y2="549.3" stroke="#4060e0" stroke-width="1"/>
<line x1="579" y1="546.3" x2="579" y2="552.3" stroke="#4060e0" stroke-width="1"/>
<text x="588" y="529" font-size="10.2" fill="#222">Control</text>
<text x="588" y="541" font-size="10.2" fill="#222">DSS</text>
<text x="588" y="553" font-size="10.2" fill="#222">DSS+Cedrol</text>
<text x="41.8" y="978.4" font-size="40.5" font-weight="bold">C</text>
<line x1="173.4" y1="1040.3" x2="521.2" y2="1040.3" stroke="#d9d9d9" stroke-width="1"/>
<line x1="173.4" y1="1073.7" x2="521.2" y2="1073.7" stroke="#d9d9d9" stroke-width="1"/>
<line x1="173.4" y1="1107" x2="521.2" y2="1107" stroke="#d9d9d9" stroke-width="1"/>
<line x1="173.4" y1="1140" x2="521.2" y2="1140" stroke="#d9d9d9" stroke-width="1"/>
<line x1="173.4" y1="1173.3" x2="521.2" y2="1173.3" stroke="#d9d9d9" stroke-width="1"/>
<line x1="173.4" y1="1206.2" x2="521.2" y2="1206.2" stroke="#d9d9d9" stroke-width="1"/>
<line x1="173.4" y1="1239.5" x2="521.2" y2="1239.5" stroke="#d9d9d9" stroke-width="1"/>
<line x1="173.4" y1="1272.5" x2="521.2" y2="1272.5" stroke="#d9d9d9" stroke-width="1"/>
<line x1="173.4" y1="1305.8" x2="521.2" y2="1305.8" stroke="#d9d9d9" stroke-width="1"/>
<line x1="173.4" y1="1338.8" x2="521.2" y2="1338.8" stroke="#d9d9d9" stroke-width="1"/>
<rect x="173.4" y="1007.4" width="347.8" height="365.1" fill="none" stroke="#444" stroke-width="1.1"/>
<circle cx="508.1" cy="1040.3" r="3.6" fill="#4a4a4a" stroke="#222" stroke-width="0.8"/>
<text x="154.3" y="1044.8" font-size="12.9" text-anchor="end" fill="#222">Glutamate</text>
<rect x="535.8" y="1032.8" width="14.6" height="15.2" fill="#a50026" stroke="#444" stroke-width="1.1"/>
<rect x="553.3" y="1032.8" width="14.6" height="15.2" fill="#313695" stroke="#444" stroke-width="1.1"/>
<rect x="570.9" y="1032.8" width="14.6" height="15.2" fill="#f2eac4" stroke="#444" stroke-width="1.1"/>
<circle cx="419.3" cy="1073.7" r="3.6" fill="#4a4a4a" stroke="#222" stroke-width="0.8"/>
<text x="154.3" y="1078.2" font-size="12.9" text-anchor="end" fill="#222">sn-Glycerophosphocholine</text>
<rect x="535.8" y="1066.2" width="14.6" height="15.2" fill="#a50026" stroke="#444" stroke-width="1.1"/>
<rect x="553.3" y="1066.2" width="14.6" height="15.2" fill="#313695" stroke="#444" stroke-width="1.1"/>
<rect x="570.9" y="1066.2" width="14.6" height="15.2" fill="#f2eac4" stroke="#444" stroke-width="1.1"/>
<circle cx="378.2" cy="1107" r="3.6" fill="#4a4a4a" stroke="#222" stroke-width="0.8"/>
<text x="154.3" y="1111.5" font-size="12.9" text-anchor="end" fill="#222">O-Phosphocholine</text>
<rect x="535.8" y="1099.5" width="14.6" height="15.2" fill="#a50026" stroke="#444" stroke-width="1.1"/>
<rect x="553.3" y="1099.5" width="14.6" height="15.2" fill="#313695" stroke="#444" stroke-width="1.1"/>
<rect x="570.9" y="1099.5" width="14.6" height="15.2" fill="#f2eac4" stroke="#444" stroke-width="1.1"/>
<circle cx="359.4" cy="1140" r="3.6" fill="#4a4a4a" stroke="#222" stroke-width="0.8"/>
<text x="154.3" y="1144.5" font-size="12.9" text-anchor="end" fill="#222">Creatine</text>
<rect x="535.8" y="1132.5" width="14.6" height="15.2" fill="#a50026" stroke="#444" stroke-width="1.1"/>
<rect x="553.3" y="1132.5" width="14.6" height="15.2" fill="#313695" stroke="#444" stroke-width="1.1"/>
<rect x="570.9" y="1132.5" width="14.6" height="15.2" fill="#f2eac4" stroke="#444" stroke-width="1.1"/>
<circle cx="303.3" cy="1173.3" r="3.6" fill="#4a4a4a" stroke="#222" stroke-width="0.8"/>
<text x="154.3" y="1177.8" font-size="12.9" text-anchor="end" fill="#222">ATP</text>
<rect x="535.8" y="1165.8" width="14.6" height="15.2" fill="#a50026" stroke="#444" stroke-width="1.1"/>
<rect x="553.3" y="1165.8" width="14.6" height="15.2" fill="#313695" stroke="#444" stroke-width="1.1"/>
<rect x="570.9" y="1165.8" width="14.6" height="15.2" fill="#f2eac4" stroke="#444" stroke-width="1.1"/>
<circle cx="269.2" cy="1206.2" r="3.6" fill="#4a4a4a" stroke="#222" stroke-width="0.8"/>
<text x="154.3" y="1210.7" font-size="12.9" text-anchor="end" fill="#222">Homoserine</text>
<rect x="535.8" y="1198.7" width="14.6" height="15.2" fill="#a50026" stroke="#444" stroke-width="1.1"/>
<rect x="553.3" y="1198.7" width="14.6" height="15.2" fill="#313695" stroke="#444" stroke-width="1.1"/>
<rect x="570.9" y="1198.7" width="14.6" height="15.2" fill="#f2eac4" stroke="#444" stroke-width="1.1"/>
<circle cx="255.7" cy="1239.5" r="3.6" fill="#4a4a4a" stroke="#222" stroke-width="0.8"/>
<text x="154.3" y="1244" font-size="12.9" text-anchor="end" fill="#222">Valine</text>
<rect x="535.8" y="1232" width="14.6" height="15.2" fill="#a50026" stroke="#444" stroke-width="1.1"/>
<rect x="553.3" y="1232" width="14.6" height="15.2" fill="#313695" stroke="#444" stroke-width="1.1"/>
<rect x="570.9" y="1232" width="14.6" height="15.2" fill="#f2eac4" stroke="#444" stroke-width="1.1"/>
<circle cx="239.6" cy="1272.5" r="3.6" fill="#4a4a4a" stroke="#222" stroke-width="0.8"/>
<text x="154.3" y="1277" font-size="12.9" text-anchor="end" fill="#222">Leucine</text>
<rect x="535.8" y="1265" width="14.6" height="15.2" fill="#a50026" stroke="#444" stroke-width="1.1"/>
<rect x="553.3" y="1265" width="14.6" height="15.2" fill="#313695" stroke="#444" stroke-width="1.1"/>
<rect x="570.9" y="1265" width="14.6" height="15.2" fill="#f2eac4" stroke="#444" stroke-width="1.1"/>
<circle cx="235.1" cy="1305.8" r="3.6" fill="#4a4a4a" stroke="#222" stroke-width="0.8"/>
<text x="154.3" y="1310.3" font-size="12.9" text-anchor="end" fill="#222">Aspartate</text>
<rect x="535.8" y="1298.3" width="14.6" height="15.2" fill="#a50026" stroke="#444" stroke-width="1.1"/>
<rect x="553.3" y="1298.3" width="14.6" height="15.2" fill="#313695" stroke="#444" stroke-width="1.1"/>
<rect x="570.9" y="1298.3" width="14.6" height="15.2" fill="#f2eac4" stroke="#444" stroke-width="1.1"/>
<circle cx="186.1" cy="1338.8" r="3.6" fill="#4a4a4a" stroke="#222" stroke-width="0.8"/>
<text x="154.3" y="1343.3" font-size="12.9" text-anchor="end" fill="#222">Glutamine</text>
<rect x="535.8" y="1331.3" width="14.6" height="15.2" fill="#a50026" stroke="#444" stroke-width="1.1"/>
<rect x="553.3" y="1331.3" width="14.6" height="15.2" fill="#313695" stroke="#444" stroke-width="1.1"/>
<rect x="570.9" y="1331.3" width="14.6" height="15.2" fill="#f2eac4" stroke="#444" stroke-width="1.1"/>
<line x1="247.5" y1="1372.5" x2="247.5" y2="1381" stroke="#444" stroke-width="1.2"/>
<text x="247.5" y="1409" font-size="16" text-anchor="middle" fill="#333">0.2</text>
<line x1="322.7" y1="1372.5" x2="322.7" y2="1381" stroke="#444" stroke-width="1.2"/>
<text x="322.7" y="1409" font-size="16" text-anchor="middle" fill="#333">0.3</text>
<line x1="398" y1="1372.5" x2="398" y2="1381" stroke="#444" stroke-width="1.2"/>
<text x="398" y="1409" font-size="16" text-anchor="middle" fill="#333">0.4</text>
<line x1="473.6" y1="1372.5" x2="473.6" y2="1381" stroke="#444" stroke-width="1.2"/>
<text x="473.6" y="1409" font-size="16" text-anchor="middle" fill="#333">0.5</text>
<text x="346.3" y="1447.5" font-size="15.9" text-anchor="middle" fill="#222">Loadings 1</text>
<text transform="translate(540.5 1015.5) rotate(-45)" font-size="12" fill="#222">Control</text>
<text transform="translate(559.5 1013.5) rotate(-45)" font-size="12" fill="#222">DSS</text>
<text transform="translate(571.5 1019) rotate(-45)" font-size="12" fill="#222">DSS+Cedrol</text>
<defs><linearGradient id="ck" x1="0" y1="0" x2="0" y2="1"><stop offset="0" stop-color="#a50026"/><stop offset="0.12" stop-color="#d73027"/><stop offset="0.28" stop-color="#f46d43"/><stop offset="0.4" stop-color="#fdae61"/><stop offset="0.5" stop-color="#fffbd0"/><stop offset="0.58" stop-color="#e0f3f8"/><stop offset="0.7" stop-color="#abd9e9"/><stop offset="0.82" stop-color="#74add1"/><stop offset="0.92" stop-color="#4575b4"/><stop offset="1" stop-color="#313695"/></linearGradient></defs>
<rect x="614.2" y="1124.2" width="10" height="131.4" fill="url(#ck)"/>
<text x="618.8" y="1117.3" font-size="11" text-anchor="middle" fill="#222">High</text>
<text x="618.8" y="1269.8" font-size="11" text-anchor="middle" fill="#222">Low</text>
<text x="739.8" y="481.5" font-size="40.5" font-weight="bold">D</text>
<rect x="835.4" y="627.8" width="39.71" height="15" fill="#e3174a" stroke="#9a9a9a" stroke-width="0.9"/>
<rect x="875.11" y="627.8" width="39.71" height="15" fill="#e3174a" stroke="#9a9a9a" stroke-width="0.9"/>
<rect x="914.82" y="627.8" width="39.71" height="15" fill="#e3174a" stroke="#9a9a9a" stroke-width="0.9"/>
<rect x="954.53" y="627.8" width="39.71" height="15" fill="#e3174a" stroke="#9a9a9a" stroke-width="0.9"/>
<rect x="994.24" y="627.8" width="39.71" height="15" fill="#e3174a" stroke="#9a9a9a" stroke-width="0.9"/>
<rect x="1033.95" y="627.8" width="39.71" height="15" fill="#3cb44b" stroke="#9a9a9a" stroke-width="0.9"/>
<rect x="1073.66" y="627.8" width="39.71" height="15" fill="#3cb44b" stroke="#9a9a9a" stroke-width="0.9"/>
<rect x="1113.37" y="627.8" width="39.71" height="15" fill="#3cb44b" stroke="#9a9a9a" stroke-width="0.9"/>
<rect x="1153.08" y="627.8" width="39.71" height="15" fill="#3cb44b" stroke="#9a9a9a" stroke-width="0.9"/>
<rect x="1192.79" y="627.8" width="39.71" height="15" fill="#3cb44b" stroke="#9a9a9a" stroke-width="0.9"/>
<rect x="1232.5" y="627.8" width="39.71" height="15" fill="#4a5fd8" stroke="#9a9a9a" stroke-width="0.9"/>
<rect x="1272.21" y="627.8" width="39.71" height="15" fill="#4a5fd8" stroke="#9a9a9a" stroke-width="0.9"/>
<rect x="1311.92" y="627.8" width="39.71" height="15" fill="#4a5fd8" stroke="#9a9a9a" stroke-width="0.9"/>
<rect x="1351.63" y="627.8" width="39.71" height="15" fill="#4a5fd8" stroke="#9a9a9a" stroke-width="0.9"/>
<rect x="1391.34" y="627.8" width="39.71" height="15" fill="#4a5fd8" stroke="#9a9a9a" stroke-width="0.9"/>
<rect x="835.4" y="648" width="39.71" height="26.93" fill="#e8896d" stroke="#9c9c9c" stroke-width="1.3"/>
<rect x="875.11" y="648" width="39.71" height="26.93" fill="#d9e3e8" stroke="#9c9c9c" stroke-width="1.3"/>
<rect x="914.82" y="648" width="39.71" height="26.93" fill="#7fb9d7" stroke="#9c9c9c" stroke-width="1.3"/>
<rect x="954.53" y="648" width="39.71" height="26.93" fill="#d7634f" stroke="#9c9c9c" stroke-width="1.3"/>
<rect x="994.24" y="648" width="39.71" height="26.93" fill="#f19f7e" stroke="#9c9c9c" stroke-width="1.3"/>
<rect x="1033.95" y="648" width="39.71" height="26.93" fill="#79b5d5" stroke="#9c9c9c" stroke-width="1.3"/>
<rect x="1073.66" y="648" width="39.71" height="26.93" fill="#6cadd1" stroke="#9c9c9c" stroke-width="1.3"/>
<rect x="1113.37" y="648" width="39.71" height="26.93" fill="#60a5cd" stroke="#9c9c9c" stroke-width="1.3"/>
<rect x="1153.08" y="648" width="39.71" height="26.93" fill="#fbcfb8" stroke="#9c9c9c" stroke-width="1.3"/>
<rect x="1192.79" y="648" width="39.71" height="26.93" fill="#f9c3a8" stroke="#9c9c9c" stroke-width="1.3"/>
<rect x="1232.5" y="648" width="39.71" height="26.93" fill="#59a1cb" stroke="#9c9c9c" stroke-width="1.3"/>
<rect x="1272.21" y="648" width="39.71" height="26.93" fill="#fcd5c0" stroke="#9c9c9c" stroke-width="1.3"/>
<rect x="1311.92" y="648" width="39.71" height="26.93" fill="#d4e4ed" stroke="#9c9c9c" stroke-width="1.3"/>
<rect x="1351.63" y="648" width="39.71" height="26.93" fill="#e1e1e1" stroke="#9c9c9c" stroke-width="1.3"/>
<rect x="1391.34" y="648" width="39.71" height="26.93" fill="#e37e64" stroke="#9c9c9c" stroke-width="1.3"/>
<rect x="835.4" y="674.93" width="39.71" height="26.93" fill="#8f0d25" stroke="#9c9c9c" stroke-width="1.3"/>
<rect x="875.11" y="674.93" width="39.71" height="26.93" fill="#dde2e5" stroke="#9c9c9c" stroke-width="1.3"/>
<rect x="914.82" y="674.93" width="39.71" height="26.93" fill="#dde2e5" stroke="#9c9c9c" stroke-width="1.3"/>
<rect x="954.53" y="674.93" width="39.71" height="26.93" fill="#be3036" stroke="#9c9c9c" stroke-width="1.3"/>
<rect x="994.24" y="674.93" width="39.71" height="26.93" fill="#fdd8c3" stroke="#9c9c9c" stroke-width="1.3"/>
<rect x="1033.95" y="674.93" width="39.71" height="26.93" fill="#85bdda" stroke="#9c9c9c" stroke-width="1.3"/>
<rect x="1073.66" y="674.93" width="39.71" height="26.93" fill="#b0d4e6" stroke="#9c9c9c" stroke-width="1.3"/>
<rect x="1113.37" y="674.93" width="39.71" height="26.93" fill="#a1cce2" stroke="#9c9c9c" stroke-width="1.3"/>
<rect x="1153.08" y="674.93" width="39.71" height="26.93" fill="#abd2e5" stroke="#9c9c9c" stroke-width="1.3"/>
<rect x="1192.79" y="674.93" width="39.71" height="26.93" fill="#f5a987" stroke="#9c9c9c" stroke-width="1.3"/>
<rect x="1232.5" y="674.93" width="39.71" height="26.93" fill="#bfdceb" stroke="#9c9c9c" stroke-width="1.3"/>
<rect x="1272.21" y="674.93" width="39.71" height="26.93" fill="#b8d8e9" stroke="#9c9c9c" stroke-width="1.3"/>
<rect x="1311.92" y="674.93" width="39.71" height="26.93" fill="#c4deec" stroke="#9c9c9c" stroke-width="1.3"/>
<rect x="1351.63" y="674.93" width="39.71" height="26.93" fill="#b3d6e7" stroke="#9c9c9c" stroke-width="1.3"/>
<rect x="1391.34" y="674.93" width="39.71" height="26.93" fill="#d9e3e8" stroke="#9c9c9c" stroke-width="1.3"/>
<rect x="835.4" y="701.86" width="39.71" height="26.93" fill="#e37e64" stroke="#9c9c9c" stroke-width="1.3"/>
<rect x="875.11" y="701.86" width="39.71" height="26.93" fill="#bfdceb" stroke="#9c9c9c" stroke-width="1.3"/>
<rect x="914.82" y="701.86" width="39.71" height="26.93" fill="#f5a987" stroke="#9c9c9c" stroke-width="1.3"/>
<rect x="954.53" y="701.86" width="39.71" height="26.93" fill="#d6e4ec" stroke="#9c9c9c" stroke-width="1.3"/>
<rect x="994.24" y="701.86" width="39.71" height="26.93" fill="#f4a582" stroke="#9c9c9c" stroke-width="1.3"/>
<rect x="1033.95" y="701.86" width="39.71" height="26.93" fill="#60a5cd" stroke="#9c9c9c" stroke-width="1.3"/>
<rect x="1073.66" y="701.86" width="39.71" height="26.93" fill="#a1cce2" stroke="#9c9c9c" stroke-width="1.3"/>
<rect x="1113.37" y="701.86" width="39.71" height="26.93" fill="#5ca3cb" stroke="#9c9c9c" stroke-width="1.3"/>
<rect x="1153.08" y="701.86" width="39.71" height="26.93" fill="#facbb3" stroke="#9c9c9c" stroke-width="1.3"/>
<rect x="1192.79" y="701.86" width="39.71" height="26.93" fill="#97c7df" stroke="#9c9c9c" stroke-width="1.3"/>
<rect x="1232.5" y="701.86" width="39.71" height="26.93" fill="#89bfdb" stroke="#9c9c9c" stroke-width="1.3"/>
<rect x="1272.21" y="701.86" width="39.71" height="26.93" fill="#c6413e" stroke="#9c9c9c" stroke-width="1.3"/>
<rect x="1311.92" y="701.86" width="39.71" height="26.93" fill="#f8bea2" stroke="#9c9c9c" stroke-width="1.3"/>
<rect x="1351.63" y="701.86" width="39.71" height="26.93" fill="#99c8e0" stroke="#9c9c9c" stroke-width="1.3"/>
<rect x="1391.34" y="701.86" width="39.71" height="26.93" fill="#fac7ad" stroke="#9c9c9c" stroke-width="1.3"/>
<rect x="835.4" y="728.79" width="39.71" height="26.93" fill="#c94741" stroke="#9c9c9c" stroke-width="1.3"/>
<rect x="875.11" y="728.79" width="39.71" height="26.93" fill="#e8896d" stroke="#9c9c9c" stroke-width="1.3"/>
<rect x="914.82" y="728.79" width="39.71" height="26.93" fill="#f1ded2" stroke="#9c9c9c" stroke-width="1.3"/>
<rect x="954.53" y="728.79" width="39.71" height="26.93" fill="#f8bea2" stroke="#9c9c9c" stroke-width="1.3"/>
<rect x="994.24" y="728.79" width="39.71" height="26.93" fill="#f8ba9d" stroke="#9c9c9c" stroke-width="1.3"/>
<rect x="1033.95" y="728.79" width="39.71" height="26.93" fill="#a1cce2" stroke="#9c9c9c" stroke-width="1.3"/>
<rect x="1073.66" y="728.79" width="39.71" height="26.93" fill="#327cb7" stroke="#9c9c9c" stroke-width="1.3"/>
<rect x="1113.37" y="728.79" width="39.71" height="26.93" fill="#59a1cb" stroke="#9c9c9c" stroke-width="1.3"/>
<rect x="1153.08" y="728.79" width="39.71" height="26.93" fill="#fbcfb8" stroke="#9c9c9c" stroke-width="1.3"/>
<rect x="1192.79" y="728.79" width="39.71" height="26.93" fill="#f6b292" stroke="#9c9c9c" stroke-width="1.3"/>
<rect x="1232.5" y="728.79" width="39.71" height="26.93" fill="#dde2e5" stroke="#9c9c9c" stroke-width="1.3"/>
<rect x="1272.21" y="728.79" width="39.71" height="26.93" fill="#f8dccb" stroke="#9c9c9c" stroke-width="1.3"/>
<rect x="1311.92" y="728.79" width="39.71" height="26.93" fill="#add3e6" stroke="#9c9c9c" stroke-width="1.3"/>
<rect x="1351.63" y="728.79" width="39.71" height="26.93" fill="#539dc8" stroke="#9c9c9c" stroke-width="1.3"/>
<rect x="1391.34" y="728.79" width="39.71" height="26.93" fill="#f8dccb" stroke="#9c9c9c" stroke-width="1.3"/>
<rect x="835.4" y="755.72" width="39.71" height="26.93" fill="#b51f2e" stroke="#9c9c9c" stroke-width="1.3"/>
<rect x="875.11" y="755.72" width="39.71" height="26.93" fill="#da6954" stroke="#9c9c9c" stroke-width="1.3"/>
<rect x="914.82" y="755.72" width="39.71" height="26.93" fill="#fac7ad" stroke="#9c9c9c" stroke-width="1.3"/>
<rect x="954.53" y="755.72" width="39.71" height="26.93" fill="#fdd8c3" stroke="#9c9c9c" stroke-width="1.3"/>
<rect x="994.24" y="755.72" width="39.71" height="26.93" fill="#eadfd8" stroke="#9c9c9c" stroke-width="1.3"/>
<rect x="1033.95" y="755.72" width="39.71" height="26.93" fill="#d9e3e8" stroke="#9c9c9c" stroke-width="1.3"/>
<rect x="1073.66" y="755.72" width="39.71" height="26.93" fill="#3c8abf" stroke="#9c9c9c" stroke-width="1.3"/>
<rect x="1113.37" y="755.72" width="39.71" height="26.93" fill="#59a1cb" stroke="#9c9c9c" stroke-width="1.3"/>
<rect x="1153.08" y="755.72" width="39.71" height="26.93" fill="#e6e0dd" stroke="#9c9c9c" stroke-width="1.3"/>
<rect x="1192.79" y="755.72" width="39.71" height="26.93" fill="#c4deec" stroke="#9c9c9c" stroke-width="1.3"/>
<rect x="1232.5" y="755.72" width="39.71" height="26.93" fill="#e4e1df" stroke="#9c9c9c" stroke-width="1.3"/>
<rect x="1272.21" y="755.72" width="39.71" height="26.93" fill="#f7b698" stroke="#9c9c9c" stroke-width="1.3"/>
<rect x="1311.92" y="755.72" width="39.71" height="26.93" fill="#eeded5" stroke="#9c9c9c" stroke-width="1.3"/>
<rect x="1351.63" y="755.72" width="39.71" height="26.93" fill="#b8d8e9" stroke="#9c9c9c" stroke-width="1.3"/>
<rect x="1391.34" y="755.72" width="39.71" height="26.93" fill="#68abd0" stroke="#9c9c9c" stroke-width="1.3"/>
<rect x="835.4" y="782.65" width="39.71" height="26.93" fill="#b51f2e" stroke="#9c9c9c" stroke-width="1.3"/>
<rect x="875.11" y="782.65" width="39.71" height="26.93" fill="#d25849" stroke="#9c9c9c" stroke-width="1.3"/>
<rect x="914.82" y="782.65" width="39.71" height="26.93" fill="#c4deec" stroke="#9c9c9c" stroke-width="1.3"/>
<rect x="954.53" y="782.65" width="39.71" height="26.93" fill="#f8bea2" stroke="#9c9c9c" stroke-width="1.3"/>
<rect x="994.24" y="782.65" width="39.71" height="26.93" fill="#e37e64" stroke="#9c9c9c" stroke-width="1.3"/>
<rect x="1033.95" y="782.65" width="39.71" height="26.93" fill="#bfdceb" stroke="#9c9c9c" stroke-width="1.3"/>
<rect x="1073.66" y="782.65" width="39.71" height="26.93" fill="#bad9e9" stroke="#9c9c9c" stroke-width="1.3"/>
<rect x="1113.37" y="782.65" width="39.71" height="26.93" fill="#97c7df" stroke="#9c9c9c" stroke-width="1.3"/>
<rect x="1153.08" y="782.65" width="39.71" height="26.93" fill="#95c6df" stroke="#9c9c9c" stroke-width="1.3"/>
<rect x="1192.79" y="782.65" width="39.71" height="26.93" fill="#a6cfe4" stroke="#9c9c9c" stroke-width="1.3"/>
<rect x="1232.5" y="782.65" width="39.71" height="26.93" fill="#f8bea2" stroke="#9c9c9c" stroke-width="1.3"/>
<rect x="1272.21" y="782.65" width="39.71" height="26.93" fill="#cee3ef" stroke="#9c9c9c" stroke-width="1.3"/>
<rect x="1311.92" y="782.65" width="39.71" height="26.93" fill="#cee3ef" stroke="#9c9c9c" stroke-width="1.3"/>
<rect x="1351.63" y="782.65" width="39.71" height="26.93" fill="#b3d6e7" stroke="#9c9c9c" stroke-width="1.3"/>
<rect x="1391.34" y="782.65" width="39.71" height="26.93" fill="#75b3d4" stroke="#9c9c9c" stroke-width="1.3"/>
<rect x="835.4" y="809.58" width="39.71" height="26.93" fill="#9b1127" stroke="#9c9c9c" stroke-width="1.3"/>
<rect x="875.11" y="809.58" width="39.71" height="26.93" fill="#f7b698" stroke="#9c9c9c" stroke-width="1.3"/>
<rect x="914.82" y="809.58" width="39.71" height="26.93" fill="#fbcfb8" stroke="#9c9c9c" stroke-width="1.3"/>
<rect x="954.53" y="809.58" width="39.71" height="26.93" fill="#f8ba9d" stroke="#9c9c9c" stroke-width="1.3"/>
<rect x="994.24" y="809.58" width="39.71" height="26.93" fill="#ef9a79" stroke="#9c9c9c" stroke-width="1.3"/>
<rect x="1033.95" y="809.58" width="39.71" height="26.93" fill="#8fc3dd" stroke="#9c9c9c" stroke-width="1.3"/>
<rect x="1073.66" y="809.58" width="39.71" height="26.93" fill="#4d99c6" stroke="#9c9c9c" stroke-width="1.3"/>
<rect x="1113.37" y="809.58" width="39.71" height="26.93" fill="#72b1d3" stroke="#9c9c9c" stroke-width="1.3"/>
<rect x="1153.08" y="809.58" width="39.71" height="26.93" fill="#539dc8" stroke="#9c9c9c" stroke-width="1.3"/>
<rect x="1192.79" y="809.58" width="39.71" height="26.93" fill="#d2e5ef" stroke="#9c9c9c" stroke-width="1.3"/>
<rect x="1232.5" y="809.58" width="39.71" height="26.93" fill="#e4e1df" stroke="#9c9c9c" stroke-width="1.3"/>
<rect x="1272.21" y="809.58" width="39.71" height="26.93" fill="#efded4" stroke="#9c9c9c" stroke-width="1.3"/>
<rect x="1311.92" y="809.58" width="39.71" height="26.93" fill="#f6ddcd" stroke="#9c9c9c" stroke-width="1.3"/>
<rect x="1351.63" y="809.58" width="39.71" height="26.93" fill="#d9e3e8" stroke="#9c9c9c" stroke-width="1.3"/>
<rect x="1391.34" y="809.58" width="39.71" height="26.93" fill="#e7e0dc" stroke="#9c9c9c" stroke-width="1.3"/>
<rect x="835.4" y="836.51" width="39.71" height="26.93" fill="#eeded5" stroke="#9c9c9c" stroke-width="1.3"/>
<rect x="875.11" y="836.51" width="39.71" height="26.93" fill="#bb2a34" stroke="#9c9c9c" stroke-width="1.3"/>
<rect x="914.82" y="836.51" width="39.71" height="26.93" fill="#c94741" stroke="#9c9c9c" stroke-width="1.3"/>
<rect x="954.53" y="836.51" width="39.71" height="26.93" fill="#fcdbc8" stroke="#9c9c9c" stroke-width="1.3"/>
<rect x="994.24" y="836.51" width="39.71" height="26.93" fill="#f8dccb" stroke="#9c9c9c" stroke-width="1.3"/>
<rect x="1033.95" y="836.51" width="39.71" height="26.93" fill="#facbb3" stroke="#9c9c9c" stroke-width="1.3"/>
<rect x="1073.66" y="836.51" width="39.71" height="26.93" fill="#efded4" stroke="#9c9c9c" stroke-width="1.3"/>
<rect x="1113.37" y="836.51" width="39.71" height="26.93" fill="#59a1cb" stroke="#9c9c9c" stroke-width="1.3"/>
<rect x="1153.08" y="836.51" width="39.71" height="26.93" fill="#bfdceb" stroke="#9c9c9c" stroke-width="1.3"/>
<rect x="1192.79" y="836.51" width="39.71" height="26.93" fill="#72b1d3" stroke="#9c9c9c" stroke-width="1.3"/>
<rect x="1232.5" y="836.51" width="39.71" height="26.93" fill="#cee3ef" stroke="#9c9c9c" stroke-width="1.3"/>
<rect x="1272.21" y="836.51" width="39.71" height="26.93" fill="#dde2e5" stroke="#9c9c9c" stroke-width="1.3"/>
<rect x="1311.92" y="836.51" width="39.71" height="26.93" fill="#f9c1a6" stroke="#9c9c9c" stroke-width="1.3"/>
<rect x="1351.63" y="836.51" width="39.71" height="26.93" fill="#b2d5e7" stroke="#9c9c9c" stroke-width="1.3"/>
<rect x="1391.34" y="836.51" width="39.71" height="26.93" fill="#3f8ec0" stroke="#9c9c9c" stroke-width="1.3"/>
<rect x="835.4" y="863.44" width="39.71" height="26.93" fill="#f7b698" stroke="#9c9c9c" stroke-width="1.3"/>
<rect x="875.11" y="863.44" width="39.71" height="26.93" fill="#6c0220" stroke="#9c9c9c" stroke-width="1.3"/>
<rect x="914.82" y="863.44" width="39.71" height="26.93" fill="#fddbc7" stroke="#9c9c9c" stroke-width="1.3"/>
<rect x="954.53" y="863.44" width="39.71" height="26.93" fill="#f8bea2" stroke="#9c9c9c" stroke-width="1.3"/>
<rect x="994.24" y="863.44" width="39.71" height="26.93" fill="#d2e5ef" stroke="#9c9c9c" stroke-width="1.3"/>
<rect x="1033.95" y="863.44" width="39.71" height="26.93" fill="#e7e0dc" stroke="#9c9c9c" stroke-width="1.3"/>
<rect x="1073.66" y="863.44" width="39.71" height="26.93" fill="#a1cce2" stroke="#9c9c9c" stroke-width="1.3"/>
<rect x="1113.37" y="863.44" width="39.71" height="26.93" fill="#72b1d3" stroke="#9c9c9c" stroke-width="1.3"/>
<rect x="1153.08" y="863.44" width="39.71" height="26.93" fill="#79b5d5" stroke="#9c9c9c" stroke-width="1.3"/>
<rect x="1192.79" y="863.44" width="39.71" height="26.93" fill="#72b1d3" stroke="#9c9c9c" stroke-width="1.3"/>
<rect x="1232.5" y="863.44" width="39.71" height="26.93" fill="#a4cee3" stroke="#9c9c9c" stroke-width="1.3"/>
<rect x="1272.21" y="863.44" width="39.71" height="26.93" fill="#e6e0dd" stroke="#9c9c9c" stroke-width="1.3"/>
<rect x="1311.92" y="863.44" width="39.71" height="26.93" fill="#eadfd8" stroke="#9c9c9c" stroke-width="1.3"/>
<rect x="1351.63" y="863.44" width="39.71" height="26.93" fill="#f4ddd0" stroke="#9c9c9c" stroke-width="1.3"/>
<rect x="1391.34" y="863.44" width="39.71" height="26.93" fill="#fac7ad" stroke="#9c9c9c" stroke-width="1.3"/>
<rect x="835.4" y="890.37" width="39.71" height="26.93" fill="#f19f7e" stroke="#9c9c9c" stroke-width="1.3"/>
<rect x="875.11" y="890.37" width="39.71" height="26.93" fill="#f4a582" stroke="#9c9c9c" stroke-width="1.3"/>
<rect x="914.82" y="890.37" width="39.71" height="26.93" fill="#c94741" stroke="#9c9c9c" stroke-width="1.3"/>
<rect x="954.53" y="890.37" width="39.71" height="26.93" fill="#f19f7e" stroke="#9c9c9c" stroke-width="1.3"/>
<rect x="994.24" y="890.37" width="39.71" height="26.93" fill="#e7e0dc" stroke="#9c9c9c" stroke-width="1.3"/>
<rect x="1033.95" y="890.37" width="39.71" height="26.93" fill="#d6e4ec" stroke="#9c9c9c" stroke-width="1.3"/>
<rect x="1073.66" y="890.37" width="39.71" height="26.93" fill="#2a71b2" stroke="#9c9c9c" stroke-width="1.3"/>
<rect x="1113.37" y="890.37" width="39.71" height="26.93" fill="#4d99c6" stroke="#9c9c9c" stroke-width="1.3"/>
<rect x="1153.08" y="890.37" width="39.71" height="26.93" fill="#a1cce2" stroke="#9c9c9c" stroke-width="1.3"/>
<rect x="1192.79" y="890.37" width="39.71" height="26.93" fill="#bfdceb" stroke="#9c9c9c" stroke-width="1.3"/>
<rect x="1232.5" y="890.37" width="39.71" height="26.93" fill="#b8d8e9" stroke="#9c9c9c" stroke-width="1.3"/>
<rect x="1272.21" y="890.37" width="39.71" height="26.93" fill="#ef9a79" stroke="#9c9c9c" stroke-width="1.3"/>
<rect x="1311.92" y="890.37" width="39.71" height="26.93" fill="#d3e4ee" stroke="#9c9c9c" stroke-width="1.3"/>
<rect x="1351.63" y="890.37" width="39.71" height="26.93" fill="#f4ddd0" stroke="#9c9c9c" stroke-width="1.3"/>
<rect x="1391.34" y="890.37" width="39.71" height="26.93" fill="#d1e5f0" stroke="#9c9c9c" stroke-width="1.3"/>
<rect x="835.4" y="917.3" width="39.71" height="26.93" fill="#f3a280" stroke="#9c9c9c" stroke-width="1.3"/>
<rect x="875.11" y="917.3" width="39.71" height="26.93" fill="#e8896d" stroke="#9c9c9c" stroke-width="1.3"/>
<rect x="914.82" y="917.3" width="39.71" height="26.93" fill="#f4a582" stroke="#9c9c9c" stroke-width="1.3"/>
<rect x="954.53" y="917.3" width="39.71" height="26.93" fill="#dc6e58" stroke="#9c9c9c" stroke-width="1.3"/>
<rect x="994.24" y="917.3" width="39.71" height="26.93" fill="#f8dccb" stroke="#9c9c9c" stroke-width="1.3"/>
<rect x="1033.95" y="917.3" width="39.71" height="26.93" fill="#ecdfd7" stroke="#9c9c9c" stroke-width="1.3"/>
<rect x="1073.66" y="917.3" width="39.71" height="26.93" fill="#79b5d5" stroke="#9c9c9c" stroke-width="1.3"/>
<rect x="1113.37" y="917.3" width="39.71" height="26.93" fill="#79b5d5" stroke="#9c9c9c" stroke-width="1.3"/>
<rect x="1153.08" y="917.3" width="39.71" height="26.93" fill="#92c5de" stroke="#9c9c9c" stroke-width="1.3"/>
<rect x="1192.79" y="917.3" width="39.71" height="26.93" fill="#4695c4" stroke="#9c9c9c" stroke-width="1.3"/>
<rect x="1232.5" y="917.3" width="39.71" height="26.93" fill="#e7e0dc" stroke="#9c9c9c" stroke-width="1.3"/>
<rect x="1272.21" y="917.3" width="39.71" height="26.93" fill="#e8896d" stroke="#9c9c9c" stroke-width="1.3"/>
<rect x="1311.92" y="917.3" width="39.71" height="26.93" fill="#d3e4ee" stroke="#9c9c9c" stroke-width="1.3"/>
<rect x="1351.63" y="917.3" width="39.71" height="26.93" fill="#fdd8c3" stroke="#9c9c9c" stroke-width="1.3"/>
<rect x="1391.34" y="917.3" width="39.71" height="26.93" fill="#5ca3cb" stroke="#9c9c9c" stroke-width="1.3"/>
<rect x="835.4" y="944.23" width="39.71" height="26.93" fill="#fac7ad" stroke="#9c9c9c" stroke-width="1.3"/>
<rect x="875.11" y="944.23" width="39.71" height="26.93" fill="#fbcfb8" stroke="#9c9c9c" stroke-width="1.3"/>
<rect x="914.82" y="944.23" width="39.71" height="26.93" fill="#de735c" stroke="#9c9c9c" stroke-width="1.3"/>
<rect x="954.53" y="944.23" width="39.71" height="26.93" fill="#950f26" stroke="#9c9c9c" stroke-width="1.3"/>
<rect x="994.24" y="944.23" width="39.71" height="26.93" fill="#ea8f71" stroke="#9c9c9c" stroke-width="1.3"/>
<rect x="1033.95" y="944.23" width="39.71" height="26.93" fill="#bfdceb" stroke="#9c9c9c" stroke-width="1.3"/>
<rect x="1073.66" y="944.23" width="39.71" height="26.93" fill="#94c6de" stroke="#9c9c9c" stroke-width="1.3"/>
<rect x="1113.37" y="944.23" width="39.71" height="26.93" fill="#8bc1dc" stroke="#9c9c9c" stroke-width="1.3"/>
<rect x="1153.08" y="944.23" width="39.71" height="26.93" fill="#d3e4ee" stroke="#9c9c9c" stroke-width="1.3"/>
<rect x="1192.79" y="944.23" width="39.71" height="26.93" fill="#85bdda" stroke="#9c9c9c" stroke-width="1.3"/>
<rect x="1232.5" y="944.23" width="39.71" height="26.93" fill="#b8d8e9" stroke="#9c9c9c" stroke-width="1.3"/>
<rect x="1272.21" y="944.23" width="39.71" height="26.93" fill="#d0e4f0" stroke="#9c9c9c" stroke-width="1.3"/>
<rect x="1311.92" y="944.23" width="39.71" height="26.93" fill="#e5e0dd" stroke="#9c9c9c" stroke-width="1.3"/>
<rect x="1351.63" y="944.23" width="39.71" height="26.93" fill="#92c5de" stroke="#9c9c9c" stroke-width="1.3"/>
<rect x="1391.34" y="944.23" width="39.71" height="26.93" fill="#bddbea" stroke="#9c9c9c" stroke-width="1.3"/>
<rect x="835.4" y="971.16" width="39.71" height="26.93" fill="#bfdceb" stroke="#9c9c9c" stroke-width="1.3"/>
<rect x="875.11" y="971.16" width="39.71" height="26.93" fill="#ea8f71" stroke="#9c9c9c" stroke-width="1.3"/>
<rect x="914.82" y="971.16" width="39.71" height="26.93" fill="#b2d5e7" stroke="#9c9c9c" stroke-width="1.3"/>
<rect x="954.53" y="971.16" width="39.71" height="26.93" fill="#d1e5f0" stroke="#9c9c9c" stroke-width="1.3"/>
<rect x="994.24" y="971.16" width="39.71" height="26.93" fill="#69011f" stroke="#9c9c9c" stroke-width="1.3"/>
<rect x="1033.95" y="971.16" width="39.71" height="26.93" fill="#e7e0dc" stroke="#9c9c9c" stroke-width="1.3"/>
<rect x="1073.66" y="971.16" width="39.71" height="26.93" fill="#f4a582" stroke="#9c9c9c" stroke-width="1.3"/>
<rect x="1113.37" y="971.16" width="39.71" height="26.93" fill="#fddac5" stroke="#9c9c9c" stroke-width="1.3"/>
<rect x="1153.08" y="971.16" width="39.71" height="26.93" fill="#a4cee3" stroke="#9c9c9c" stroke-width="1.3"/>
<rect x="1192.79" y="971.16" width="39.71" height="26.93" fill="#95c6df" stroke="#9c9c9c" stroke-width="1.3"/>
<rect x="1232.5" y="971.16" width="39.71" height="26.93" fill="#e4e1df" stroke="#9c9c9c" stroke-width="1.3"/>
<rect x="1272.21" y="971.16" width="39.71" height="26.93" fill="#7fb9d7" stroke="#9c9c9c" stroke-width="1.3"/>
<rect x="1311.92" y="971.16" width="39.71" height="26.93" fill="#e7e0dc" stroke="#9c9c9c" stroke-width="1.3"/>
<rect x="1351.63" y="971.16" width="39.71" height="26.93" fill="#a6cfe4" stroke="#9c9c9c" stroke-width="1.3"/>
<rect x="1391.34" y="971.16" width="39.71" height="26.93" fill="#d2e5ef" stroke="#9c9c9c" stroke-width="1.3"/>
<rect x="835.4" y="998.09" width="39.71" height="26.93" fill="#e7e0dc" stroke="#9c9c9c" stroke-width="1.3"/>
<rect x="875.11" y="998.09" width="39.71" height="26.93" fill="#d7634f" stroke="#9c9c9c" stroke-width="1.3"/>
<rect x="914.82" y="998.09" width="39.71" height="26.93" fill="#8bc1dc" stroke="#9c9c9c" stroke-width="1.3"/>
<rect x="954.53" y="998.09" width="39.71" height="26.93" fill="#b5d7e8" stroke="#9c9c9c" stroke-width="1.3"/>
<rect x="994.24" y="998.09" width="39.71" height="26.93" fill="#8f0d25" stroke="#9c9c9c" stroke-width="1.3"/>
<rect x="1033.95" y="998.09" width="39.71" height="26.93" fill="#e8896d" stroke="#9c9c9c" stroke-width="1.3"/>
<rect x="1073.66" y="998.09" width="39.71" height="26.93" fill="#c2ddec" stroke="#9c9c9c" stroke-width="1.3"/>
<rect x="1113.37" y="998.09" width="39.71" height="26.93" fill="#85bdda" stroke="#9c9c9c" stroke-width="1.3"/>
<rect x="1153.08" y="998.09" width="39.71" height="26.93" fill="#8fc3dd" stroke="#9c9c9c" stroke-width="1.3"/>
<rect x="1192.79" y="998.09" width="39.71" height="26.93" fill="#eddfd6" stroke="#9c9c9c" stroke-width="1.3"/>
<rect x="1232.5" y="998.09" width="39.71" height="26.93" fill="#fddac5" stroke="#9c9c9c" stroke-width="1.3"/>
<rect x="1272.21" y="998.09" width="39.71" height="26.93" fill="#a6cfe4" stroke="#9c9c9c" stroke-width="1.3"/>
<rect x="1311.92" y="998.09" width="39.71" height="26.93" fill="#dfe2e3" stroke="#9c9c9c" stroke-width="1.3"/>
<rect x="1351.63" y="998.09" width="39.71" height="26.93" fill="#abd2e5" stroke="#9c9c9c" stroke-width="1.3"/>
<rect x="1391.34" y="998.09" width="39.71" height="26.93" fill="#e9e0da" stroke="#9c9c9c" stroke-width="1.3"/>
<rect x="835.4" y="1025.02" width="39.71" height="26.93" fill="#66a9cf" stroke="#9c9c9c" stroke-width="1.3"/>
<rect x="875.11" y="1025.02" width="39.71" height="26.93" fill="#95c6df" stroke="#9c9c9c" stroke-width="1.3"/>
<rect x="914.82" y="1025.02" width="39.71" height="26.93" fill="#abd2e5" stroke="#9c9c9c" stroke-width="1.3"/>
<rect x="954.53" y="1025.02" width="39.71" height="26.93" fill="#e8896d" stroke="#9c9c9c" stroke-width="1.3"/>
<rect x="994.24" y="1025.02" width="39.71" height="26.93" fill="#facbb3" stroke="#9c9c9c" stroke-width="1.3"/>
<rect x="1033.95" y="1025.02" width="39.71" height="26.93" fill="#2167ac" stroke="#9c9c9c" stroke-width="1.3"/>
<rect x="1073.66" y="1025.02" width="39.71" height="26.93" fill="#c2ddec" stroke="#9c9c9c" stroke-width="1.3"/>
<rect x="1113.37" y="1025.02" width="39.71" height="26.93" fill="#dae3e7" stroke="#9c9c9c" stroke-width="1.3"/>
<rect x="1153.08" y="1025.02" width="39.71" height="26.93" fill="#f5a987" stroke="#9c9c9c" stroke-width="1.3"/>
<rect x="1192.79" y="1025.02" width="39.71" height="26.93" fill="#fddac5" stroke="#9c9c9c" stroke-width="1.3"/>
<rect x="1232.5" y="1025.02" width="39.71" height="26.93" fill="#bfdceb" stroke="#9c9c9c" stroke-width="1.3"/>
<rect x="1272.21" y="1025.02" width="39.71" height="26.93" fill="#db6c56" stroke="#9c9c9c" stroke-width="1.3"/>
<rect x="1311.92" y="1025.02" width="39.71" height="26.93" fill="#f4a785" stroke="#9c9c9c" stroke-width="1.3"/>
<rect x="1351.63" y="1025.02" width="39.71" height="26.93" fill="#dde2e5" stroke="#9c9c9c" stroke-width="1.3"/>
<rect x="1391.34" y="1025.02" width="39.71" height="26.93" fill="#f4a785" stroke="#9c9c9c" stroke-width="1.3"/>
<rect x="835.4" y="1051.95" width="39.71" height="26.93" fill="#8bc1dc" stroke="#9c9c9c" stroke-width="1.3"/>
<rect x="875.11" y="1051.95" width="39.71" height="26.93" fill="#e7e0dc" stroke="#9c9c9c" stroke-width="1.3"/>
<rect x="914.82" y="1051.95" width="39.71" height="26.93" fill="#abd2e5" stroke="#9c9c9c" stroke-width="1.3"/>
<rect x="954.53" y="1051.95" width="39.71" height="26.93" fill="#e7e0dc" stroke="#9c9c9c" stroke-width="1.3"/>
<rect x="994.24" y="1051.95" width="39.71" height="26.93" fill="#79b5d5" stroke="#9c9c9c" stroke-width="1.3"/>
<rect x="1033.95" y="1051.95" width="39.71" height="26.93" fill="#4291c2" stroke="#9c9c9c" stroke-width="1.3"/>
<rect x="1073.66" y="1051.95" width="39.71" height="26.93" fill="#eddfd6" stroke="#9c9c9c" stroke-width="1.3"/>
<rect x="1113.37" y="1051.95" width="39.71" height="26.93" fill="#e9e0da" stroke="#9c9c9c" stroke-width="1.3"/>
<rect x="1153.08" y="1051.95" width="39.71" height="26.93" fill="#fbceb6" stroke="#9c9c9c" stroke-width="1.3"/>
<rect x="1192.79" y="1051.95" width="39.71" height="26.93" fill="#66a9cf" stroke="#9c9c9c" stroke-width="1.3"/>
<rect x="1232.5" y="1051.95" width="39.71" height="26.93" fill="#f8ba9d" stroke="#9c9c9c" stroke-width="1.3"/>
<rect x="1272.21" y="1051.95" width="39.71" height="26.93" fill="#f8ba9d" stroke="#9c9c9c" stroke-width="1.3"/>
<rect x="1311.92" y="1051.95" width="39.71" height="26.93" fill="#890b25" stroke="#9c9c9c" stroke-width="1.3"/>
<rect x="1351.63" y="1051.95" width="39.71" height="26.93" fill="#fbceb6" stroke="#9c9c9c" stroke-width="1.3"/>
<rect x="1391.34" y="1051.95" width="39.71" height="26.93" fill="#f9c5ab" stroke="#9c9c9c" stroke-width="1.3"/>
<rect x="835.4" y="1078.88" width="39.71" height="26.93" fill="#bad9e9" stroke="#9c9c9c" stroke-width="1.3"/>
<rect x="875.11" y="1078.88" width="39.71" height="26.93" fill="#fdd8c3" stroke="#9c9c9c" stroke-width="1.3"/>
<rect x="914.82" y="1078.88" width="39.71" height="26.93" fill="#bad9e9" stroke="#9c9c9c" stroke-width="1.3"/>
<rect x="954.53" y="1078.88" width="39.71" height="26.93" fill="#be3036" stroke="#9c9c9c" stroke-width="1.3"/>
<rect x="994.24" y="1078.88" width="39.71" height="26.93" fill="#68abd0" stroke="#9c9c9c" stroke-width="1.3"/>
<rect x="1033.95" y="1078.88" width="39.71" height="26.93" fill="#bad9e9" stroke="#9c9c9c" stroke-width="1.3"/>
<rect x="1073.66" y="1078.88" width="39.71" height="26.93" fill="#d7e4ea" stroke="#9c9c9c" stroke-width="1.3"/>
<rect x="1113.37" y="1078.88" width="39.71" height="26.93" fill="#fbceb6" stroke="#9c9c9c" stroke-width="1.3"/>
<rect x="1153.08" y="1078.88" width="39.71" height="26.93" fill="#c4deec" stroke="#9c9c9c" stroke-width="1.3"/>
<rect x="1192.79" y="1078.88" width="39.71" height="26.93" fill="#3b89be" stroke="#9c9c9c" stroke-width="1.3"/>
<rect x="1232.5" y="1078.88" width="39.71" height="26.93" fill="#facbb3" stroke="#9c9c9c" stroke-width="1.3"/>
<rect x="1272.21" y="1078.88" width="39.71" height="26.93" fill="#f5ddcf" stroke="#9c9c9c" stroke-width="1.3"/>
<rect x="1311.92" y="1078.88" width="39.71" height="26.93" fill="#ef9a79" stroke="#9c9c9c" stroke-width="1.3"/>
<rect x="1351.63" y="1078.88" width="39.71" height="26.93" fill="#da6954" stroke="#9c9c9c" stroke-width="1.3"/>
<rect x="1391.34" y="1078.88" width="39.71" height="26.93" fill="#7fb9d7" stroke="#9c9c9c" stroke-width="1.3"/>
<rect x="835.4" y="1105.81" width="39.71" height="26.93" fill="#f5ddcf" stroke="#9c9c9c" stroke-width="1.3"/>
<rect x="875.11" y="1105.81" width="39.71" height="26.93" fill="#de735c" stroke="#9c9c9c" stroke-width="1.3"/>
<rect x="914.82" y="1105.81" width="39.71" height="26.93" fill="#f9c4aa" stroke="#9c9c9c" stroke-width="1.3"/>
<rect x="954.53" y="1105.81" width="39.71" height="26.93" fill="#e8896d" stroke="#9c9c9c" stroke-width="1.3"/>
<rect x="994.24" y="1105.81" width="39.71" height="26.93" fill="#dae3e7" stroke="#9c9c9c" stroke-width="1.3"/>
<rect x="1033.95" y="1105.81" width="39.71" height="26.93" fill="#63a7ce" stroke="#9c9c9c" stroke-width="1.3"/>
<rect x="1073.66" y="1105.81" width="39.71" height="26.93" fill="#8bc1dc" stroke="#9c9c9c" stroke-width="1.3"/>
<rect x="1113.37" y="1105.81" width="39.71" height="26.93" fill="#4695c4" stroke="#9c9c9c" stroke-width="1.3"/>
<rect x="1153.08" y="1105.81" width="39.71" height="26.93" fill="#aed3e6" stroke="#9c9c9c" stroke-width="1.3"/>
<rect x="1192.79" y="1105.81" width="39.71" height="26.93" fill="#68abd0" stroke="#9c9c9c" stroke-width="1.3"/>
<rect x="1232.5" y="1105.81" width="39.71" height="26.93" fill="#f5ddcf" stroke="#9c9c9c" stroke-width="1.3"/>
<rect x="1272.21" y="1105.81" width="39.71" height="26.93" fill="#cee3ef" stroke="#9c9c9c" stroke-width="1.3"/>
<rect x="1311.92" y="1105.81" width="39.71" height="26.93" fill="#c6413e" stroke="#9c9c9c" stroke-width="1.3"/>
<rect x="1351.63" y="1105.81" width="39.71" height="26.93" fill="#eddfd6" stroke="#9c9c9c" stroke-width="1.3"/>
<rect x="1391.34" y="1105.81" width="39.71" height="26.93" fill="#f9c1a6" stroke="#9c9c9c" stroke-width="1.3"/>
<rect x="835.4" y="1132.74" width="39.71" height="26.93" fill="#bfdceb" stroke="#9c9c9c" stroke-width="1.3"/>
<rect x="875.11" y="1132.74" width="39.71" height="26.93" fill="#c43b3c" stroke="#9c9c9c" stroke-width="1.3"/>
<rect x="914.82" y="1132.74" width="39.71" height="26.93" fill="#e37e64" stroke="#9c9c9c" stroke-width="1.3"/>
<rect x="954.53" y="1132.74" width="39.71" height="26.93" fill="#d2e5ef" stroke="#9c9c9c" stroke-width="1.3"/>
<rect x="994.24" y="1132.74" width="39.71" height="26.93" fill="#abd2e5" stroke="#9c9c9c" stroke-width="1.3"/>
<rect x="1033.95" y="1132.74" width="39.71" height="26.93" fill="#5da3cc" stroke="#9c9c9c" stroke-width="1.3"/>
<rect x="1073.66" y="1132.74" width="39.71" height="26.93" fill="#e7e0dc" stroke="#9c9c9c" stroke-width="1.3"/>
<rect x="1113.37" y="1132.74" width="39.71" height="26.93" fill="#a3cde3" stroke="#9c9c9c" stroke-width="1.3"/>
<rect x="1153.08" y="1132.74" width="39.71" height="26.93" fill="#c4deec" stroke="#9c9c9c" stroke-width="1.3"/>
<rect x="1192.79" y="1132.74" width="39.71" height="26.93" fill="#4d99c6" stroke="#9c9c9c" stroke-width="1.3"/>
<rect x="1232.5" y="1132.74" width="39.71" height="26.93" fill="#abd2e5" stroke="#9c9c9c" stroke-width="1.3"/>
<rect x="1272.21" y="1132.74" width="39.71" height="26.93" fill="#eeded5" stroke="#9c9c9c" stroke-width="1.3"/>
<rect x="1311.92" y="1132.74" width="39.71" height="26.93" fill="#de735c" stroke="#9c9c9c" stroke-width="1.3"/>
<rect x="1351.63" y="1132.74" width="39.71" height="26.93" fill="#fddbc7" stroke="#9c9c9c" stroke-width="1.3"/>
<rect x="1391.34" y="1132.74" width="39.71" height="26.93" fill="#ec9273" stroke="#9c9c9c" stroke-width="1.3"/>
<rect x="835.4" y="1159.67" width="39.71" height="26.93" fill="#f9c1a6" stroke="#9c9c9c" stroke-width="1.3"/>
<rect x="875.11" y="1159.67" width="39.71" height="26.93" fill="#f5a987" stroke="#9c9c9c" stroke-width="1.3"/>
<rect x="914.82" y="1159.67" width="39.71" height="26.93" fill="#bb2a34" stroke="#9c9c9c" stroke-width="1.3"/>
<rect x="954.53" y="1159.67" width="39.71" height="26.93" fill="#add3e6" stroke="#9c9c9c" stroke-width="1.3"/>
<rect x="994.24" y="1159.67" width="39.71" height="26.93" fill="#fdd8c3" stroke="#9c9c9c" stroke-width="1.3"/>
<rect x="1033.95" y="1159.67" width="39.71" height="26.93" fill="#a4cee3" stroke="#9c9c9c" stroke-width="1.3"/>
<rect x="1073.66" y="1159.67" width="39.71" height="26.93" fill="#94c6de" stroke="#9c9c9c" stroke-width="1.3"/>
<rect x="1113.37" y="1159.67" width="39.71" height="26.93" fill="#2c75b4" stroke="#9c9c9c" stroke-width="1.3"/>
<rect x="1153.08" y="1159.67" width="39.71" height="26.93" fill="#d8e3ea" stroke="#9c9c9c" stroke-width="1.3"/>
<rect x="1192.79" y="1159.67" width="39.71" height="26.93" fill="#97c7df" stroke="#9c9c9c" stroke-width="1.3"/>
<rect x="1232.5" y="1159.67" width="39.71" height="26.93" fill="#bfdceb" stroke="#9c9c9c" stroke-width="1.3"/>
<rect x="1272.21" y="1159.67" width="39.71" height="26.93" fill="#fddbc7" stroke="#9c9c9c" stroke-width="1.3"/>
<rect x="1311.92" y="1159.67" width="39.71" height="26.93" fill="#e37e64" stroke="#9c9c9c" stroke-width="1.3"/>
<rect x="1351.63" y="1159.67" width="39.71" height="26.93" fill="#d7e4ea" stroke="#9c9c9c" stroke-width="1.3"/>
<rect x="1391.34" y="1159.67" width="39.71" height="26.93" fill="#facbb3" stroke="#9c9c9c" stroke-width="1.3"/>
<rect x="835.4" y="1186.6" width="39.71" height="26.93" fill="#d9e3e8" stroke="#9c9c9c" stroke-width="1.3"/>
<rect x="875.11" y="1186.6" width="39.71" height="26.93" fill="#da6954" stroke="#9c9c9c" stroke-width="1.3"/>
<rect x="914.82" y="1186.6" width="39.71" height="26.93" fill="#cf5246" stroke="#9c9c9c" stroke-width="1.3"/>
<rect x="954.53" y="1186.6" width="39.71" height="26.93" fill="#d9e3e8" stroke="#9c9c9c" stroke-width="1.3"/>
<rect x="994.24" y="1186.6" width="39.71" height="26.93" fill="#85bdda" stroke="#9c9c9c" stroke-width="1.3"/>
<rect x="1033.95" y="1186.6" width="39.71" height="26.93" fill="#75b3d4" stroke="#9c9c9c" stroke-width="1.3"/>
<rect x="1073.66" y="1186.6" width="39.71" height="26.93" fill="#79b5d5" stroke="#9c9c9c" stroke-width="1.3"/>
<rect x="1113.37" y="1186.6" width="39.71" height="26.93" fill="#bad9e9" stroke="#9c9c9c" stroke-width="1.3"/>
<rect x="1153.08" y="1186.6" width="39.71" height="26.93" fill="#97c7df" stroke="#9c9c9c" stroke-width="1.3"/>
<rect x="1192.79" y="1186.6" width="39.71" height="26.93" fill="#aed3e6" stroke="#9c9c9c" stroke-width="1.3"/>
<rect x="1232.5" y="1186.6" width="39.71" height="26.93" fill="#eddfd6" stroke="#9c9c9c" stroke-width="1.3"/>
<rect x="1272.21" y="1186.6" width="39.71" height="26.93" fill="#dc6e58" stroke="#9c9c9c" stroke-width="1.3"/>
<rect x="1311.92" y="1186.6" width="39.71" height="26.93" fill="#e68469" stroke="#9c9c9c" stroke-width="1.3"/>
<rect x="1351.63" y="1186.6" width="39.71" height="26.93" fill="#bad9e9" stroke="#9c9c9c" stroke-width="1.3"/>
<rect x="1391.34" y="1186.6" width="39.71" height="26.93" fill="#fcdbc8" stroke="#9c9c9c" stroke-width="1.3"/>
<rect x="835.4" y="1213.53" width="39.71" height="26.93" fill="#f9c1a6" stroke="#9c9c9c" stroke-width="1.3"/>
<rect x="875.11" y="1213.53" width="39.71" height="26.93" fill="#d25849" stroke="#9c9c9c" stroke-width="1.3"/>
<rect x="914.82" y="1213.53" width="39.71" height="26.93" fill="#d6604d" stroke="#9c9c9c" stroke-width="1.3"/>
<rect x="954.53" y="1213.53" width="39.71" height="26.93" fill="#fcdbc8" stroke="#9c9c9c" stroke-width="1.3"/>
<rect x="994.24" y="1213.53" width="39.71" height="26.93" fill="#b0d4e6" stroke="#9c9c9c" stroke-width="1.3"/>
<rect x="1033.95" y="1213.53" width="39.71" height="26.93" fill="#4695c4" stroke="#9c9c9c" stroke-width="1.3"/>
<rect x="1073.66" y="1213.53" width="39.71" height="26.93" fill="#94c6de" stroke="#9c9c9c" stroke-width="1.3"/>
<rect x="1113.37" y="1213.53" width="39.71" height="26.93" fill="#b8d8e9" stroke="#9c9c9c" stroke-width="1.3"/>
<rect x="1153.08" y="1213.53" width="39.71" height="26.93" fill="#75b3d4" stroke="#9c9c9c" stroke-width="1.3"/>
<rect x="1192.79" y="1213.53" width="39.71" height="26.93" fill="#97c7df" stroke="#9c9c9c" stroke-width="1.3"/>
<rect x="1232.5" y="1213.53" width="39.71" height="26.93" fill="#fcdbc8" stroke="#9c9c9c" stroke-width="1.3"/>
<rect x="1272.21" y="1213.53" width="39.71" height="26.93" fill="#efded4" stroke="#9c9c9c" stroke-width="1.3"/>
<rect x="1311.92" y="1213.53" width="39.71" height="26.93" fill="#facab1" stroke="#9c9c9c" stroke-width="1.3"/>
<rect x="1351.63" y="1213.53" width="39.71" height="26.93" fill="#9fcbe2" stroke="#9c9c9c" stroke-width="1.3"/>
<rect x="1391.34" y="1213.53" width="39.71" height="26.93" fill="#e17960" stroke="#9c9c9c" stroke-width="1.3"/>
<text x="1436" y="640.08" font-size="15.6" font-weight="bold" fill="#111">class</text>
<text x="1436" y="667.96" font-size="15.7" fill="#222">Acetoacetate</text>
<text x="1436" y="694.89" font-size="15.7" fill="#222">Acetate</text>
<text x="1436" y="721.82" font-size="15.7" fill="#222">Choline</text>
<text x="1436" y="748.75" font-size="15.7" fill="#222">Betaine</text>
<text x="1436" y="775.68" font-size="15.7" fill="#222">Aspartate</text>
<text x="1436" y="802.61" font-size="15.7" fill="#222">ATP</text>
<text x="1436" y="829.54" font-size="15.7" fill="#222">Glutamate</text>
<text x="1436" y="856.47" font-size="15.7" fill="#222">Lactate</text>
<text x="1436" y="883.4" font-size="15.7" fill="#222">Valine</text>
<text x="1436" y="910.33" font-size="15.7" fill="#222">O-Phosphocholine</text>
<text x="1436" y="937.26" font-size="15.7" fill="#222">Creatine</text>
<text x="1436" y="964.19" font-size="15.7" fill="#222">sn-Glycerophosphocholine</text>
<text x="1436" y="991.12" font-size="15.7" fill="#222">Tyrosine</text>
<text x="1436" y="1018.05" font-size="15.7" fill="#222">Fumarate</text>
<text x="1436" y="1044.98" font-size="15.7" fill="#222">Formate</text>
<text x="1436" y="1071.91" font-size="15.7" fill="#222">Glycine</text>
<text x="1436" y="1098.84" font-size="15.7" fill="#222">Glucose</text>
<text x="1436" y="1125.77" font-size="15.7" fill="#222">Homoserine</text>
<text x="1436" y="1152.7" font-size="15.7" fill="#222">Alanine</text>
<text x="1436" y="1179.63" font-size="15.7" fill="#222">Glutamine</text>
<text x="1436" y="1206.56" font-size="15.7" fill="#222">Isoleucine</text>
<text x="1436" y="1233.49" font-size="15.7" fill="#222">Leucine</text>
<text transform="translate(849.75 1245.8) rotate(90)" font-size="15.6" fill="#222">Control-1</text>
<text transform="translate(889.46 1245.8) rotate(90)" font-size="15.6" fill="#222">Control-2</text>
<text transform="translate(929.17 1245.8) rotate(90)" font-size="15.6" fill="#222">Control-3</text>
<text transform="translate(968.88 1245.8) rotate(90)" font-size="15.6" fill="#222">Control-4</text>
<text transform="translate(1008.6 1245.8) rotate(90)" font-size="15.6" fill="#222">Control-5</text>
<text transform="translate(1048.31 1245.8) rotate(90)" font-size="15.6" fill="#222">DSS-1</text>
<text transform="translate(1088.01 1245.8) rotate(90)" font-size="15.6" fill="#222">DSS-2</text>
<text transform="translate(1127.72 1245.8) rotate(90)" font-size="15.6" fill="#222">DSS-3</text>
<text transform="translate(1167.43 1245.8) rotate(90)" font-size="15.6" fill="#222">DSS-4</text>
<text transform="translate(1207.14 1245.8) rotate(90)" font-size="15.6" fill="#222">DSS-5</text>
<text transform="translate(1246.86 1245.8) rotate(90)" font-size="15.6" fill="#222">DSSCedrol-1</text>
<text transform="translate(1286.57 1245.8) rotate(90)" font-size="15.6" fill="#222">DSSCedrol-2</text>
<text transform="translate(1326.28 1245.8) rotate(90)" font-size="15.6" fill="#222">DSSCedrol-3</text>
<text transform="translate(1365.99 1245.8) rotate(90)" font-size="15.6" fill="#222">DSSCedrol-4</text>
<text transform="translate(1405.69 1245.8) rotate(90)" font-size="15.6" fill="#222">DSSCedrol-5</text>
<path d="M835.4 661.47H816V688.39H835.4" stroke="#1a1a1a" stroke-width="1.9" fill="none"/>
<path d="M816 674.93H805.7V715.33H835.4" stroke="#1a1a1a" stroke-width="1.9" fill="none"/>
<path d="M835.4 742.25H818.9V769.18H835.4" stroke="#1a1a1a" stroke-width="1.9" fill="none"/>
<path d="M835.4 796.12H819.6V823.04H835.4" stroke="#1a1a1a" stroke-width="1.9" fill="none"/>
<path d="M818.9 755.72H814.6V809.58H819.6" stroke="#1a1a1a" stroke-width="1.9" fill="none"/>
<path d="M805.7 695.13H803.5V782.65H814.6" stroke="#1a1a1a" stroke-width="1.9" fill="none"/>
<path d="M835.4 849.98H813.4V876.9H835.4" stroke="#1a1a1a" stroke-width="1.9" fill="none"/>
<path d="M835.4 903.84H822V930.76H835.4" stroke="#1a1a1a" stroke-width="1.9" fill="none"/>
<path d="M822 917.3H813.6V957.69H835.4" stroke="#1a1a1a" stroke-width="1.9" fill="none"/>
<path d="M813.4 863.44H808.4V937.5H813.6" stroke="#1a1a1a" stroke-width="1.9" fill="none"/>
<path d="M803.5 738.89H790.4V900.47H808.4" stroke="#1a1a1a" stroke-width="1.9" fill="none"/>
<path d="M835.4 984.62H817.5V1011.56H835.4" stroke="#1a1a1a" stroke-width="1.9" fill="none"/>
<path d="M790.4 819.68H774.9V998.09H817.5" stroke="#1a1a1a" stroke-width="1.9" fill="none"/>
<path d="M835.4 1038.49H811.4V1065.41H835.4" stroke="#1a1a1a" stroke-width="1.9" fill="none"/>
<path d="M811.4 1051.95H805.6V1092.35H835.4" stroke="#1a1a1a" stroke-width="1.9" fill="none"/>
<path d="M835.4 1119.28H818V1146.2H835.4" stroke="#1a1a1a" stroke-width="1.9" fill="none"/>
<path d="M818 1132.74H816.4V1173.13H835.4" stroke="#1a1a1a" stroke-width="1.9" fill="none"/>
<path d="M835.4 1200.07H820.9V1226.99H835.4" stroke="#1a1a1a" stroke-width="1.9" fill="none"/>
<path d="M816.4 1152.94H814.7V1213.53H820.9" stroke="#1a1a1a" stroke-width="1.9" fill="none"/>
<path d="M805.6 1072.15H779.5V1183.23H814.7" stroke="#1a1a1a" stroke-width="1.9" fill="none"/>
<path d="M774.9 908.88H753.3V1127.69H779.5" stroke="#1a1a1a" stroke-width="1.9" fill="none"/>
<defs><linearGradient id="hmcb" x1="0" y1="0" x2="0" y2="1"><stop offset="0" stop-color="#67001F"/><stop offset="0.11" stop-color="#B2182B"/><stop offset="0.22" stop-color="#D6604D"/><stop offset="0.33" stop-color="#F4A582"/><stop offset="0.44" stop-color="#FDDBC7"/><stop offset="0.56" stop-color="#D1E5F0"/><stop offset="0.67" stop-color="#92C5DE"/><stop offset="0.78" stop-color="#4393C3"/><stop offset="0.89" stop-color="#2166AC"/><stop offset="1" stop-color="#053061"/></linearGradient></defs>
<rect x="1590.7" y="626.1" width="15.4" height="233.6" fill="url(#hmcb)"/>
<text x="1613.2" y="666.65" font-size="15.7" fill="#222">2</text>
<text x="1613.2" y="707.45" font-size="15.7" fill="#222">1</text>
<text x="1613.2" y="748.15" font-size="15.7" fill="#222">0</text>
<text x="1613.2" y="790.35" font-size="15.7" fill="#222">-1</text>
<text x="1613.2" y="831.65" font-size="15.7" fill="#222">-2</text>
<text x="1636.8" y="636.38" font-size="15.6" font-weight="bold" fill="#111">class</text>
<rect x="1636.8" y="642.9" width="21" height="20.7" fill="#e3174a"/>
<text x="1663" y="658.65" font-size="15.7" fill="#222">Control</text>
<rect x="1636.8" y="664.3" width="21" height="20.7" fill="#3cb44b"/>
<text x="1663" y="680.65" font-size="15.7" fill="#222">DSS</text>
<rect x="1636.8" y="686" width="21" height="20.7" fill="#4a5fd8"/>
<text x="1663" y="702.55" font-size="15.7" fill="#222">DSS+Cedrol</text>
<text x="40.2" y="1489.5" font-size="40.5" font-weight="bold">E</text>
<line x1="175.07" y1="1553.6" x2="175.07" y2="1558" stroke="#555" stroke-width="1.3"/>
<line x1="175.07" y1="1634.8" x2="175.07" y2="1688.4" stroke="#555" stroke-width="1.3"/>
<rect x="151.4" y="1558" width="47.35" height="76.8" fill="#e3174a" stroke="#3a3a3a" stroke-width="1.2"/>
<line x1="151.4" y1="1610.2" x2="198.75" y2="1610.2" stroke="#333" stroke-width="2.6"/>
<line x1="238.6" y1="1684" x2="238.6" y2="1705.4" stroke="#555" stroke-width="1.3"/>
<line x1="238.6" y1="1722.7" x2="238.6" y2="1743.8" stroke="#555" stroke-width="1.3"/>
<rect x="214.5" y="1705.4" width="48.2" height="17.3" fill="#3cb44b" stroke="#3a3a3a" stroke-width="1.2"/>
<line x1="214.5" y1="1709.8" x2="262.7" y2="1709.8" stroke="#333" stroke-width="2.6"/>
<rect x="277.7" y="1616.4" width="47.8" height="27.9" fill="#4262d6" stroke="#3a3a3a" stroke-width="1.2"/>
<line x1="277.7" y1="1631.8" x2="325.5" y2="1631.8" stroke="#333" stroke-width="2.6"/>
<circle cx="150.5" cy="1557.1" r="1.9" fill="#000"/>
<circle cx="190.7" cy="1553.6" r="1.9" fill="#000"/>
<circle cx="172" cy="1611.1" r="1.9" fill="#000"/>
<circle cx="172.3" cy="1634.3" r="1.9" fill="#000"/>
<circle cx="162.5" cy="1688.4" r="1.9" fill="#000"/>
<circle cx="230.5" cy="1684.8" r="1.9" fill="#000"/>
<circle cx="244.8" cy="1704.5" r="1.9" fill="#000"/>
<circle cx="243.4" cy="1710.7" r="1.9" fill="#000"/>
<circle cx="230" cy="1722.7" r="1.9" fill="#000"/>
<circle cx="243" cy="1742.9" r="1.9" fill="#000"/>
<circle cx="327" cy="1569.6" r="1.9" fill="#000"/>
<circle cx="320.2" cy="1616.4" r="1.9" fill="#000"/>
<circle cx="305" cy="1630.9" r="1.9" fill="#000"/>
<circle cx="286.3" cy="1644.3" r="1.9" fill="#000"/>
<circle cx="324.1" cy="1699.5" r="1.9" fill="#000"/>
<circle cx="175" cy="1608.6" r="2.6" fill="#ffff00"/>
<circle cx="238.4" cy="1712.9" r="2.6" fill="#ffff00"/>
<circle cx="301.8" cy="1633" r="2.6" fill="#ffff00"/>
<rect x="137.1" y="1544.2" width="202.5" height="208.6" fill="none" stroke="#7a7a7a" stroke-width="1.3"/>
<line x1="133.6" y1="1590.2" x2="137.1" y2="1590.2" stroke="#999" stroke-width="0.9"/>
<text x="132.1" y="1593.15" font-size="8.2" text-anchor="end" fill="#999">1</text>
<line x1="133.6" y1="1651.8" x2="137.1" y2="1651.8" stroke="#999" stroke-width="0.9"/>
<text x="132.1" y="1654.75" font-size="8.2" text-anchor="end" fill="#999">0</text>
<line x1="133.6" y1="1713" x2="137.1" y2="1713" stroke="#999" stroke-width="0.9"/>
<text x="132.1" y="1715.95" font-size="8.2" text-anchor="end" fill="#999">-1</text>
<line x1="175" y1="1752.8" x2="175" y2="1756.3" stroke="#999" stroke-width="0.9"/>
<text transform="translate(178.9 1759.3) rotate(-90)" font-size="11.3" text-anchor="end" fill="#111" textLength="38" lengthAdjust="spacingAndGlyphs">Control</text>
<line x1="238.4" y1="1752.8" x2="238.4" y2="1756.3" stroke="#999" stroke-width="0.9"/>
<text transform="translate(242.3 1759.3) rotate(-90)" font-size="11.3" text-anchor="end" fill="#111" textLength="20.8" lengthAdjust="spacingAndGlyphs">DSS</text>
<line x1="301.8" y1="1752.8" x2="301.8" y2="1756.3" stroke="#999" stroke-width="0.9"/>
<text transform="translate(305.7 1759.3) rotate(-90)" font-size="11.3" text-anchor="end" fill="#111" textLength="60" lengthAdjust="spacingAndGlyphs">DSS+Cedrol</text>
<text x="237.1" y="1521.1" font-size="18.9" text-anchor="middle" font-weight="bold" fill="#111">Leucine</text>
<text transform="translate(109.14 1649.9) rotate(-90)" font-size="19" text-anchor="middle" font-weight="bold" fill="#111">Normalized content</text>
<text x="239.3" y="1673.2" font-size="20" text-anchor="middle" fill="#222">##</text>
<text x="303.05" y="1615.2" font-size="29" text-anchor="middle" font-weight="bold" fill="#1a1a1a" letter-spacing="2.5">**</text>
<line x1="438.7" y1="1670.3" x2="438.7" y2="1695.5" stroke="#555" stroke-width="1.3"/>
<rect x="415.2" y="1647" width="47" height="23.3" fill="#e3174a" stroke="#3a3a3a" stroke-width="1.2"/>
<line x1="415.2" y1="1652.8" x2="462.2" y2="1652.8" stroke="#333" stroke-width="2.6"/>
<rect x="477.9" y="1722.6" width="48.5" height="18.4" fill="#3cb44b" stroke="#3a3a3a" stroke-width="1.2"/>
<line x1="477.9" y1="1739.8" x2="526.4" y2="1739.8" stroke="#333" stroke-width="2.6"/>
<rect x="541.1" y="1676.5" width="47.9" height="11.7" fill="#4262d6" stroke="#3a3a3a" stroke-width="1.2"/>
<line x1="541.1" y1="1682.6" x2="589" y2="1682.6" stroke="#333" stroke-width="2.6"/>
<circle cx="446.5" cy="1552.3" r="1.9" fill="#000"/>
<circle cx="435.5" cy="1647.6" r="1.9" fill="#000"/>
<circle cx="430" cy="1653.1" r="1.9" fill="#000"/>
<circle cx="414.7" cy="1670.6" r="1.9" fill="#000"/>
<circle cx="462.2" cy="1696.5" r="1.9" fill="#000"/>
<circle cx="477.5" cy="1686.3" r="1.9" fill="#000"/>
<circle cx="510.1" cy="1723.2" r="1.9" fill="#000"/>
<circle cx="494.8" cy="1739.8" r="1.9" fill="#000"/>
<circle cx="477.5" cy="1742.5" r="1.9" fill="#000"/>
<circle cx="518.8" cy="1741.6" r="1.9" fill="#000"/>
<circle cx="578" cy="1656.5" r="1.9" fill="#000"/>
<circle cx="587.6" cy="1677.1" r="1.9" fill="#000"/>
<circle cx="560.5" cy="1683" r="1.9" fill="#000"/>
<circle cx="571.5" cy="1688.2" r="1.9" fill="#000"/>
<circle cx="575.9" cy="1721" r="1.9" fill="#000"/>
<circle cx="438.2" cy="1643.9" r="2.6" fill="#ffff00"/>
<circle cx="501.8" cy="1726.9" r="2.6" fill="#ffff00"/>
<circle cx="564.9" cy="1685" r="2.6" fill="#ffff00"/>
<rect x="400.5" y="1543.1" width="203.3" height="208.1" fill="none" stroke="#7a7a7a" stroke-width="1.3"/>
<line x1="397" y1="1587.1" x2="400.5" y2="1587.1" stroke="#999" stroke-width="0.9"/>
<text x="395.5" y="1590.05" font-size="8.2" text-anchor="end" fill="#999">2</text>
<line x1="397" y1="1636.5" x2="400.5" y2="1636.5" stroke="#999" stroke-width="0.9"/>
<text x="395.5" y="1639.45" font-size="8.2" text-anchor="end" fill="#999">1</text>
<line x1="397" y1="1685" x2="400.5" y2="1685" stroke="#999" stroke-width="0.9"/>
<text x="395.5" y="1687.95" font-size="8.2" text-anchor="end" fill="#999">0</text>
<line x1="397" y1="1734.6" x2="400.5" y2="1734.6" stroke="#999" stroke-width="0.9"/>
<text x="395.5" y="1737.55" font-size="8.2" text-anchor="end" fill="#999">-1</text>
<line x1="438.6" y1="1751.2" x2="438.6" y2="1754.7" stroke="#999" stroke-width="0.9"/>
<text transform="translate(442.5 1757.7) rotate(-90)" font-size="11.3" text-anchor="end" fill="#111" textLength="38" lengthAdjust="spacingAndGlyphs">Control</text>
<line x1="502.2" y1="1751.2" x2="502.2" y2="1754.7" stroke="#999" stroke-width="0.9"/>
<text transform="translate(506.1 1757.7) rotate(-90)" font-size="11.3" text-anchor="end" fill="#111" textLength="20.8" lengthAdjust="spacingAndGlyphs">DSS</text>
<line x1="565.4" y1="1751.2" x2="565.4" y2="1754.7" stroke="#999" stroke-width="0.9"/>
<text transform="translate(569.3 1757.7) rotate(-90)" font-size="11.3" text-anchor="end" fill="#111" textLength="60" lengthAdjust="spacingAndGlyphs">DSS+Cedrol</text>
<text x="496.3" y="1521.7" font-size="18.9" text-anchor="middle" font-weight="bold" fill="#111">Valine</text>
<text transform="translate(375.04 1648.55) rotate(-90)" font-size="19" text-anchor="middle" font-weight="bold" fill="#111">Normalized content</text>
<text x="500.6" y="1707.3" font-size="20" text-anchor="middle" fill="#222">#</text>
<line x1="702" y1="1713.1" x2="702" y2="1717.4" stroke="#555" stroke-width="1.3"/>
<rect x="677.9" y="1668.7" width="48.2" height="44.4" fill="#e3174a" stroke="#3a3a3a" stroke-width="1.2"/>
<line x1="677.9" y1="1698.9" x2="726.1" y2="1698.9" stroke="#333" stroke-width="2.6"/>
<line x1="765.95" y1="1645.6" x2="765.95" y2="1662.9" stroke="#555" stroke-width="1.3"/>
<line x1="765.95" y1="1725.5" x2="765.95" y2="1740.8" stroke="#555" stroke-width="1.3"/>
<rect x="741.9" y="1662.9" width="48.1" height="62.6" fill="#3cb44b" stroke="#3a3a3a" stroke-width="1.2"/>
<line x1="741.9" y1="1665" x2="790" y2="1665" stroke="#333" stroke-width="2.6"/>
<line x1="828.85" y1="1639.2" x2="828.85" y2="1645.6" stroke="#555" stroke-width="1.3"/>
<rect x="804.8" y="1630.6" width="48.1" height="8.6" fill="#4262d6" stroke="#3a3a3a" stroke-width="1.2"/>
<line x1="804.8" y1="1633.2" x2="852.9" y2="1633.2" stroke="#333" stroke-width="2.6"/>
<circle cx="687.6" cy="1668.7" r="1.9" fill="#000"/>
<circle cx="703.2" cy="1668.2" r="1.9" fill="#000"/>
<circle cx="690.8" cy="1698.9" r="1.9" fill="#000"/>
<circle cx="689.2" cy="1712.6" r="1.9" fill="#000"/>
<circle cx="689.2" cy="1718.7" r="1.9" fill="#000"/>
<circle cx="744.4" cy="1662.9" r="1.9" fill="#000"/>
<circle cx="782.3" cy="1665.5" r="1.9" fill="#000"/>
<circle cx="774.5" cy="1645.6" r="1.9" fill="#000"/>
<circle cx="748.4" cy="1725.2" r="1.9" fill="#000"/>
<circle cx="766.1" cy="1740.3" r="1.9" fill="#000"/>
<circle cx="805.2" cy="1550.2" r="1.9" fill="#000"/>
<circle cx="829.8" cy="1631.1" r="1.9" fill="#000"/>
<circle cx="833.1" cy="1633.5" r="1.9" fill="#000"/>
<circle cx="820.2" cy="1640" r="1.9" fill="#000"/>
<circle cx="811.3" cy="1645.6" r="1.9" fill="#000"/>
<circle cx="702.1" cy="1693.5" r="2.6" fill="#ffff00"/>
<circle cx="765.3" cy="1687.6" r="2.6" fill="#ffff00"/>
<circle cx="828.7" cy="1619.5" r="2.6" fill="#ffff00"/>
<rect x="664.5" y="1541.3" width="202" height="208.7" fill="none" stroke="#7a7a7a" stroke-width="1.3"/>
<line x1="661" y1="1571.1" x2="664.5" y2="1571.1" stroke="#999" stroke-width="0.9"/>
<text x="659.5" y="1574.05" font-size="8.2" text-anchor="end" fill="#999">2</text>
<line x1="661" y1="1618.5" x2="664.5" y2="1618.5" stroke="#999" stroke-width="0.9"/>
<text x="659.5" y="1621.45" font-size="8.2" text-anchor="end" fill="#999">1</text>
<line x1="661" y1="1667.4" x2="664.5" y2="1667.4" stroke="#999" stroke-width="0.9"/>
<text x="659.5" y="1670.35" font-size="8.2" text-anchor="end" fill="#999">0</text>
<line x1="661" y1="1714.7" x2="664.5" y2="1714.7" stroke="#999" stroke-width="0.9"/>
<text x="659.5" y="1717.65" font-size="8.2" text-anchor="end" fill="#999">-1</text>
<line x1="702.1" y1="1750" x2="702.1" y2="1753.5" stroke="#999" stroke-width="0.9"/>
<text transform="translate(706 1756.5) rotate(-90)" font-size="11.3" text-anchor="end" fill="#111" textLength="38" lengthAdjust="spacingAndGlyphs">Control</text>
<line x1="765.3" y1="1750" x2="765.3" y2="1753.5" stroke="#999" stroke-width="0.9"/>
<text transform="translate(769.2 1756.5) rotate(-90)" font-size="11.3" text-anchor="end" fill="#111" textLength="20.8" lengthAdjust="spacingAndGlyphs">DSS</text>
<line x1="828.7" y1="1750" x2="828.7" y2="1753.5" stroke="#999" stroke-width="0.9"/>
<text transform="translate(832.6 1756.5) rotate(-90)" font-size="11.3" text-anchor="end" fill="#111" textLength="60" lengthAdjust="spacingAndGlyphs">DSS+Cedrol</text>
<text x="762.1" y="1521" font-size="18.9" text-anchor="middle" font-weight="bold" fill="#111">Glycine</text>
<text transform="translate(636.64 1647.05) rotate(-90)" font-size="19" text-anchor="middle" font-weight="bold" fill="#111">Normalized content</text>
<text x="829.95" y="1629.2" font-size="29" text-anchor="middle" font-weight="bold" fill="#1a1a1a" letter-spacing="2.5">*</text>
<rect x="944.4" y="1605.8" width="48.3" height="25" fill="#e3174a" stroke="#3a3a3a" stroke-width="1.2"/>
<line x1="944.4" y1="1615" x2="992.7" y2="1615" stroke="#333" stroke-width="2.6"/>
<rect x="1008.4" y="1686.5" width="47.6" height="5.9" fill="#3cb44b" stroke="#3a3a3a" stroke-width="1.2"/>
<line x1="1008.4" y1="1691.3" x2="1056" y2="1691.3" stroke="#333" stroke-width="2.6"/>
<line x1="1095.65" y1="1587.6" x2="1095.65" y2="1622.6" stroke="#555" stroke-width="1.3"/>
<line x1="1095.65" y1="1659.7" x2="1095.65" y2="1670.6" stroke="#555" stroke-width="1.3"/>
<rect x="1071.6" y="1622.6" width="48.1" height="37.1" fill="#4262d6" stroke="#3a3a3a" stroke-width="1.2"/>
<line x1="1071.6" y1="1631.3" x2="1119.7" y2="1631.3" stroke="#333" stroke-width="2.6"/>
<circle cx="993.9" cy="1551.3" r="1.9" fill="#000"/>
<circle cx="969.7" cy="1605.8" r="1.9" fill="#000"/>
<circle cx="964.5" cy="1614.5" r="1.9" fill="#000"/>
<circle cx="944.4" cy="1630.6" r="1.9" fill="#000"/>
<circle cx="948.2" cy="1679.2" r="1.9" fill="#000"/>
<circle cx="1009.2" cy="1659.4" r="1.9" fill="#000"/>
<circle cx="1039.4" cy="1686" r="1.9" fill="#000"/>
<circle cx="1010.3" cy="1691.3" r="1.9" fill="#000"/>
<circle cx="1041.9" cy="1691.6" r="1.9" fill="#000"/>
<circle cx="1010" cy="1741.6" r="1.9" fill="#000"/>
<circle cx="1097.9" cy="1587.6" r="1.9" fill="#000"/>
<circle cx="1073.7" cy="1623.4" r="1.9" fill="#000"/>
<circle cx="1072.4" cy="1631.6" r="1.9" fill="#000"/>
<circle cx="1096.8" cy="1659.4" r="1.9" fill="#000"/>
<circle cx="1114" cy="1671.5" r="1.9" fill="#000"/>
<circle cx="968.9" cy="1616.3" r="2.6" fill="#ffff00"/>
<circle cx="1032.3" cy="1694.5" r="2.6" fill="#ffff00"/>
<circle cx="1095.5" cy="1634.8" r="2.6" fill="#ffff00"/>
<rect x="931" y="1541.6" width="202.4" height="209.4" fill="none" stroke="#7a7a7a" stroke-width="1.3"/>
<line x1="927.5" y1="1551.6" x2="931" y2="1551.6" stroke="#999" stroke-width="0.9"/>
<text x="926" y="1554.55" font-size="8.2" text-anchor="end" fill="#999">2</text>
<line x1="927.5" y1="1599.7" x2="931" y2="1599.7" stroke="#999" stroke-width="0.9"/>
<text x="926" y="1602.65" font-size="8.2" text-anchor="end" fill="#999">1</text>
<line x1="927.5" y1="1648.5" x2="931" y2="1648.5" stroke="#999" stroke-width="0.9"/>
<text x="926" y="1651.45" font-size="8.2" text-anchor="end" fill="#999">0</text>
<line x1="927.5" y1="1697.3" x2="931" y2="1697.3" stroke="#999" stroke-width="0.9"/>
<text x="926" y="1700.25" font-size="8.2" text-anchor="end" fill="#999">-1</text>
<line x1="927.5" y1="1745.6" x2="931" y2="1745.6" stroke="#999" stroke-width="0.9"/>
<text x="926" y="1748.55" font-size="8.2" text-anchor="end" fill="#999">-2</text>
<line x1="968.1" y1="1751" x2="968.1" y2="1754.5" stroke="#999" stroke-width="0.9"/>
<text transform="translate(972 1757.5) rotate(-90)" font-size="11.3" text-anchor="end" fill="#111" textLength="38" lengthAdjust="spacingAndGlyphs">Control</text>
<line x1="1032.3" y1="1751" x2="1032.3" y2="1754.5" stroke="#999" stroke-width="0.9"/>
<text transform="translate(1036.2 1757.5) rotate(-90)" font-size="11.3" text-anchor="end" fill="#111" textLength="20.8" lengthAdjust="spacingAndGlyphs">DSS</text>
<line x1="1095.5" y1="1751" x2="1095.5" y2="1754.5" stroke="#999" stroke-width="0.9"/>
<text transform="translate(1099.4 1757.5) rotate(-90)" font-size="11.3" text-anchor="end" fill="#111" textLength="60" lengthAdjust="spacingAndGlyphs">DSS+Cedrol</text>
<text x="1027.7" y="1521" font-size="18.9" text-anchor="middle" font-weight="bold" fill="#111">Glutamine</text>
<text transform="translate(904.74 1647.7) rotate(-90)" font-size="19" text-anchor="middle" font-weight="bold" fill="#111">Normalized content</text>
<text x="1029.4" y="1670.6" font-size="20" text-anchor="middle" fill="#222">#</text>
<line x1="1225" y1="1550" x2="1225" y2="1572.7" stroke="#555" stroke-width="1.3"/>
<line x1="1225" y1="1631.6" x2="1225" y2="1695.6" stroke="#555" stroke-width="1.3"/>
<rect x="1201.5" y="1572.7" width="47" height="58.9" fill="#e3174a" stroke="#3a3a3a" stroke-width="1.2"/>
<line x1="1201.5" y1="1596.1" x2="1248.5" y2="1596.1" stroke="#333" stroke-width="2.6"/>
<rect x="1264.4" y="1702.1" width="47.9" height="23.7" fill="#3cb44b" stroke="#3a3a3a" stroke-width="1.2"/>
<line x1="1264.4" y1="1716.3" x2="1312.3" y2="1716.3" stroke="#333" stroke-width="2.6"/>
<rect x="1327.6" y="1690.8" width="48" height="17.7" fill="#4262d6" stroke="#3a3a3a" stroke-width="1.2"/>
<line x1="1327.6" y1="1692.7" x2="1375.6" y2="1692.7" stroke="#333" stroke-width="2.6"/>
<circle cx="1218.7" cy="1550" r="1.9" fill="#000"/>
<circle cx="1227.6" cy="1573.1" r="1.9" fill="#000"/>
<circle cx="1249.8" cy="1596.1" r="1.9" fill="#000"/>
<circle cx="1227.6" cy="1631.6" r="1.9" fill="#000"/>
<circle cx="1208.7" cy="1696.5" r="1.9" fill="#000"/>
<circle cx="1268.4" cy="1700.5" r="1.9" fill="#000"/>
<circle cx="1274.8" cy="1701" r="1.9" fill="#000"/>
<circle cx="1269.2" cy="1716.3" r="1.9" fill="#000"/>
<circle cx="1264.4" cy="1726.3" r="1.9" fill="#000"/>
<circle cx="1299" cy="1725.2" r="1.9" fill="#000"/>
<circle cx="1330.5" cy="1631.9" r="1.9" fill="#000"/>
<circle cx="1329.2" cy="1691.6" r="1.9" fill="#000"/>
<circle cx="1340.2" cy="1693.5" r="1.9" fill="#000"/>
<circle cx="1358.4" cy="1709" r="1.9" fill="#000"/>
<circle cx="1334.2" cy="1740" r="1.9" fill="#000"/>
<circle cx="1224.8" cy="1609.4" r="2.6" fill="#ffff00"/>
<circle cx="1288.5" cy="1713.9" r="2.6" fill="#ffff00"/>
<circle cx="1351.8" cy="1692.9" r="2.6" fill="#ffff00"/>
<rect x="1187.4" y="1540.3" width="202.3" height="209.4" fill="none" stroke="#7a7a7a" stroke-width="1.3"/>
<line x1="1183.9" y1="1552.1" x2="1187.4" y2="1552.1" stroke="#999" stroke-width="0.9"/>
<text x="1182.4" y="1555.05" font-size="8.2" text-anchor="end" fill="#999">2</text>
<line x1="1183.9" y1="1612.1" x2="1187.4" y2="1612.1" stroke="#999" stroke-width="0.9"/>
<text x="1182.4" y="1615.05" font-size="8.2" text-anchor="end" fill="#999">1</text>
<line x1="1183.9" y1="1672.3" x2="1187.4" y2="1672.3" stroke="#999" stroke-width="0.9"/>
<text x="1182.4" y="1675.25" font-size="8.2" text-anchor="end" fill="#999">0</text>
<line x1="1183.9" y1="1732.7" x2="1187.4" y2="1732.7" stroke="#999" stroke-width="0.9"/>
<text x="1182.4" y="1735.65" font-size="8.2" text-anchor="end" fill="#999">-1</text>
<line x1="1224.8" y1="1749.7" x2="1224.8" y2="1753.2" stroke="#999" stroke-width="0.9"/>
<text transform="translate(1228.7 1756.2) rotate(-90)" font-size="11.3" text-anchor="end" fill="#111" textLength="38" lengthAdjust="spacingAndGlyphs">Control</text>
<line x1="1288.5" y1="1749.7" x2="1288.5" y2="1753.2" stroke="#999" stroke-width="0.9"/>
<text transform="translate(1292.4 1756.2) rotate(-90)" font-size="11.3" text-anchor="end" fill="#111" textLength="20.8" lengthAdjust="spacingAndGlyphs">DSS</text>
<line x1="1351.8" y1="1749.7" x2="1351.8" y2="1753.2" stroke="#999" stroke-width="0.9"/>
<text transform="translate(1355.7 1756.2) rotate(-90)" font-size="11.3" text-anchor="end" fill="#111" textLength="60" lengthAdjust="spacingAndGlyphs">DSS+Cedrol</text>
<text x="1283.7" y="1518.6" font-size="18.9" text-anchor="middle" font-weight="bold" fill="#111">ATP</text>
<text transform="translate(1158.34 1646.4) rotate(-90)" font-size="19" text-anchor="middle" font-weight="bold" fill="#111">Normalized content</text>
<text x="1288.5" y="1689.9" font-size="20" text-anchor="middle" fill="#222">##</text>
<line x1="1489.1" y1="1571.9" x2="1489.1" y2="1581.6" stroke="#555" stroke-width="1.3"/>
<line x1="1489.1" y1="1638.7" x2="1489.1" y2="1662.6" stroke="#555" stroke-width="1.3"/>
<rect x="1465.5" y="1581.6" width="47.2" height="57.1" fill="#e3174a" stroke="#3a3a3a" stroke-width="1.2"/>
<line x1="1465.5" y1="1616.9" x2="1512.7" y2="1616.9" stroke="#333" stroke-width="2.6"/>
<line x1="1552.75" y1="1690" x2="1552.75" y2="1708.5" stroke="#555" stroke-width="1.3"/>
<line x1="1552.75" y1="1722.7" x2="1552.75" y2="1737.6" stroke="#555" stroke-width="1.3"/>
<rect x="1528.7" y="1708.5" width="48.1" height="14.2" fill="#3cb44b" stroke="#3a3a3a" stroke-width="1.2"/>
<line x1="1528.7" y1="1721.8" x2="1576.8" y2="1721.8" stroke="#333" stroke-width="2.6"/>
<line x1="1616.3" y1="1647.3" x2="1616.3" y2="1670.6" stroke="#555" stroke-width="1.3"/>
<rect x="1592.6" y="1615" width="47.4" height="32.3" fill="#4262d6" stroke="#3a3a3a" stroke-width="1.2"/>
<line x1="1592.6" y1="1640" x2="1640" y2="1640" stroke="#333" stroke-width="2.6"/>
<circle cx="1502.9" cy="1571.5" r="1.9" fill="#000"/>
<circle cx="1464.7" cy="1581.9" r="1.9" fill="#000"/>
<circle cx="1467.9" cy="1617.1" r="1.9" fill="#000"/>
<circle cx="1504.7" cy="1639.2" r="1.9" fill="#000"/>
<circle cx="1489.2" cy="1662.6" r="1.9" fill="#000"/>
<circle cx="1534.5" cy="1689.5" r="1.9" fill="#000"/>
<circle cx="1570" cy="1708.1" r="1.9" fill="#000"/>
<circle cx="1553.4" cy="1721.9" r="1.9" fill="#000"/>
<circle cx="1558.2" cy="1720.6" r="1.9" fill="#000"/>
<circle cx="1562.6" cy="1738.4" r="1.9" fill="#000"/>
<circle cx="1612.3" cy="1547.7" r="1.9" fill="#000"/>
<circle cx="1620.3" cy="1614.2" r="1.9" fill="#000"/>
<circle cx="1628.9" cy="1640.3" r="1.9" fill="#000"/>
<circle cx="1636" cy="1647.3" r="1.9" fill="#000"/>
<circle cx="1623.5" cy="1671.9" r="1.9" fill="#000"/>
<circle cx="1489.2" cy="1613.9" r="2.6" fill="#ffff00"/>
<circle cx="1552.9" cy="1715.8" r="2.6" fill="#ffff00"/>
<circle cx="1616.3" cy="1623.9" r="2.6" fill="#ffff00"/>
<rect x="1452.1" y="1538.1" width="202.1" height="209.6" fill="none" stroke="#7a7a7a" stroke-width="1.3"/>
<line x1="1448.6" y1="1593.2" x2="1452.1" y2="1593.2" stroke="#999" stroke-width="0.9"/>
<text x="1447.1" y="1596.15" font-size="8.2" text-anchor="end" fill="#999">1</text>
<line x1="1448.6" y1="1651.8" x2="1452.1" y2="1651.8" stroke="#999" stroke-width="0.9"/>
<text x="1447.1" y="1654.75" font-size="8.2" text-anchor="end" fill="#999">0</text>
<line x1="1448.6" y1="1709.7" x2="1452.1" y2="1709.7" stroke="#999" stroke-width="0.9"/>
<text x="1447.1" y="1712.65" font-size="8.2" text-anchor="end" fill="#999">-1</text>
<line x1="1489.2" y1="1747.7" x2="1489.2" y2="1751.2" stroke="#999" stroke-width="0.9"/>
<text transform="translate(1493.1 1754.2) rotate(-90)" font-size="11.3" text-anchor="end" fill="#111" textLength="38" lengthAdjust="spacingAndGlyphs">Control</text>
<line x1="1552.9" y1="1747.7" x2="1552.9" y2="1751.2" stroke="#999" stroke-width="0.9"/>
<text transform="translate(1556.8 1754.2) rotate(-90)" font-size="11.3" text-anchor="end" fill="#111" textLength="20.8" lengthAdjust="spacingAndGlyphs">DSS</text>
<line x1="1616.3" y1="1747.7" x2="1616.3" y2="1751.2" stroke="#999" stroke-width="0.9"/>
<text transform="translate(1620.2 1754.2) rotate(-90)" font-size="11.3" text-anchor="end" fill="#111" textLength="60" lengthAdjust="spacingAndGlyphs">DSS+Cedrol</text>
<text x="1551" y="1518.6" font-size="18.9" text-anchor="middle" font-weight="bold" fill="#111">Homoserine</text>
<text transform="translate(1420.74 1644.3) rotate(-90)" font-size="19" text-anchor="middle" font-weight="bold" fill="#111">Normalized content</text>
<text x="1554.2" y="1684.3" font-size="20" text-anchor="middle" fill="#222">##</text>
<text x="1619.15" y="1608.4" font-size="29" text-anchor="middle" font-weight="bold" fill="#1a1a1a" letter-spacing="2.5">**</text>
<line x1="172.4" y1="1961.9" x2="172.4" y2="1977.3" stroke="#555" stroke-width="1.3"/>
<rect x="149" y="1946.3" width="46.8" height="15.6" fill="#e3174a" stroke="#3a3a3a" stroke-width="1.2"/>
<line x1="149" y1="1960.5" x2="195.8" y2="1960.5" stroke="#333" stroke-width="2.6"/>
<line x1="235.85" y1="2014.4" x2="235.85" y2="2044.5" stroke="#555" stroke-width="1.3"/>
<line x1="235.85" y1="2067.6" x2="235.85" y2="2070.8" stroke="#555" stroke-width="1.3"/>
<rect x="211.9" y="2044.5" width="47.9" height="23.1" fill="#3cb44b" stroke="#3a3a3a" stroke-width="1.2"/>
<line x1="211.9" y1="2057.6" x2="259.8" y2="2057.6" stroke="#333" stroke-width="2.6"/>
<line x1="300.2" y1="1988.5" x2="300.2" y2="1992.3" stroke="#555" stroke-width="1.3"/>
<line x1="300.2" y1="2005.5" x2="300.2" y2="2008.7" stroke="#555" stroke-width="1.3"/>
<rect x="276" y="1992.3" width="48.4" height="13.2" fill="#4262d6" stroke="#3a3a3a" stroke-width="1.2"/>
<line x1="276" y1="2001.5" x2="324.4" y2="2001.5" stroke="#333" stroke-width="2.6"/>
<circle cx="174" cy="1882.1" r="1.9" fill="#000"/>
<circle cx="194.7" cy="1946.6" r="1.9" fill="#000"/>
<circle cx="171.9" cy="1961.5" r="1.9" fill="#000"/>
<circle cx="181.3" cy="1961.5" r="1.9" fill="#000"/>
<circle cx="182.4" cy="1976.9" r="1.9" fill="#000"/>
<circle cx="231.8" cy="2014.4" r="1.9" fill="#000"/>
<circle cx="216.8" cy="2045" r="1.9" fill="#000"/>
<circle cx="233.2" cy="2057.6" r="1.9" fill="#000"/>
<circle cx="258.7" cy="2067.1" r="1.9" fill="#000"/>
<circle cx="255" cy="2072.4" r="1.9" fill="#000"/>
<circle cx="301.8" cy="1989.4" r="1.9" fill="#000"/>
<circle cx="293.9" cy="1992.6" r="1.9" fill="#000"/>
<circle cx="297.1" cy="2001.5" r="1.9" fill="#000"/>
<circle cx="284" cy="2005.5" r="1.9" fill="#000"/>
<circle cx="322.1" cy="2008.7" r="1.9" fill="#000"/>
<circle cx="172.1" cy="1945.8" r="2.6" fill="#ffff00"/>
<circle cx="236.1" cy="2051.5" r="2.6" fill="#ffff00"/>
<circle cx="299.4" cy="1999" r="2.6" fill="#ffff00"/>
<rect x="135.3" y="1872.7" width="202.4" height="208.1" fill="none" stroke="#7a7a7a" stroke-width="1.3"/>
<line x1="131.8" y1="1897.4" x2="135.3" y2="1897.4" stroke="#999" stroke-width="0.9"/>
<text x="130.3" y="1900.35" font-size="8.2" text-anchor="end" fill="#999">2</text>
<line x1="131.8" y1="1948.5" x2="135.3" y2="1948.5" stroke="#999" stroke-width="0.9"/>
<text x="130.3" y="1951.45" font-size="8.2" text-anchor="end" fill="#999">1</text>
<line x1="131.8" y1="1998.7" x2="135.3" y2="1998.7" stroke="#999" stroke-width="0.9"/>
<text x="130.3" y="2001.65" font-size="8.2" text-anchor="end" fill="#999">0</text>
<line x1="131.8" y1="2049.8" x2="135.3" y2="2049.8" stroke="#999" stroke-width="0.9"/>
<text x="130.3" y="2052.75" font-size="8.2" text-anchor="end" fill="#999">-1</text>
<line x1="172.1" y1="2080.8" x2="172.1" y2="2084.3" stroke="#999" stroke-width="0.9"/>
<text transform="translate(176 2087.3) rotate(-90)" font-size="11.3" text-anchor="end" fill="#111" textLength="38" lengthAdjust="spacingAndGlyphs">Control</text>
<line x1="236.6" y1="2080.8" x2="236.6" y2="2084.3" stroke="#999" stroke-width="0.9"/>
<text transform="translate(240.5 2087.3) rotate(-90)" font-size="11.3" text-anchor="end" fill="#111" textLength="20.8" lengthAdjust="spacingAndGlyphs">DSS</text>
<line x1="299.8" y1="2080.8" x2="299.8" y2="2084.3" stroke="#999" stroke-width="0.9"/>
<text transform="translate(303.7 2087.3) rotate(-90)" font-size="11.3" text-anchor="end" fill="#111" textLength="60" lengthAdjust="spacingAndGlyphs">DSS+Cedrol</text>
<text x="231.3" y="1856.6" font-size="18.9" text-anchor="middle" font-weight="bold" fill="#111">Glutamate</text>
<text transform="translate(113.14 1978.15) rotate(-90)" font-size="19" text-anchor="middle" font-weight="bold" fill="#111">Normalized content</text>
<text x="236.6" y="2005.9" font-size="20" text-anchor="middle" fill="#222">###</text>
<text x="301.85" y="1986" font-size="29" text-anchor="middle" font-weight="bold" fill="#1a1a1a" letter-spacing="2.5">***</text>
<line x1="440.9" y1="1882.9" x2="440.9" y2="1909.2" stroke="#555" stroke-width="1.3"/>
<line x1="440.9" y1="1967.9" x2="440.9" y2="1983.7" stroke="#555" stroke-width="1.3"/>
<rect x="417.1" y="1909.2" width="47.6" height="58.7" fill="#e3174a" stroke="#3a3a3a" stroke-width="1.2"/>
<line x1="417.1" y1="1957.4" x2="464.7" y2="1957.4" stroke="#333" stroke-width="2.6"/>
<line x1="504.85" y1="1991" x2="504.85" y2="1997.7" stroke="#555" stroke-width="1.3"/>
<line x1="504.85" y1="2053.9" x2="504.85" y2="2071.6" stroke="#555" stroke-width="1.3"/>
<rect x="480.8" y="1997.7" width="48.1" height="56.2" fill="#3cb44b" stroke="#3a3a3a" stroke-width="1.2"/>
<line x1="480.8" y1="2007.9" x2="528.9" y2="2007.9" stroke="#333" stroke-width="2.6"/>
<line x1="568.3" y1="1948.2" x2="568.3" y2="1981.8" stroke="#555" stroke-width="1.3"/>
<line x1="568.3" y1="2014.8" x2="568.3" y2="2048.7" stroke="#555" stroke-width="1.3"/>
<rect x="544.5" y="1981.8" width="47.6" height="33" fill="#4262d6" stroke="#3a3a3a" stroke-width="1.2"/>
<line x1="544.5" y1="1992.3" x2="592.1" y2="1992.3" stroke="#333" stroke-width="2.6"/>
<circle cx="421.5" cy="1882.1" r="1.9" fill="#000"/>
<circle cx="452.6" cy="1909.5" r="1.9" fill="#000"/>
<circle cx="454.5" cy="1956.8" r="1.9" fill="#000"/>
<circle cx="466.6" cy="1967.3" r="1.9" fill="#000"/>
<circle cx="431.6" cy="1983.4" r="1.9" fill="#000"/>
<circle cx="498.1" cy="1989.8" r="1.9" fill="#000"/>
<circle cx="516.3" cy="1997.1" r="1.9" fill="#000"/>
<circle cx="528.7" cy="2008.2" r="1.9" fill="#000"/>
<circle cx="489.2" cy="2054.4" r="1.9" fill="#000"/>
<circle cx="492.6" cy="2072.1" r="1.9" fill="#000"/>
<circle cx="572.7" cy="1948.2" r="1.9" fill="#000"/>
<circle cx="569.5" cy="1982.9" r="1.9" fill="#000"/>
<circle cx="569.2" cy="1991" r="1.9" fill="#000"/>
<circle cx="557.9" cy="2014.7" r="1.9" fill="#000"/>
<circle cx="543.7" cy="2049" r="1.9" fill="#000"/>
<circle cx="441" cy="1940.5" r="2.6" fill="#ffff00"/>
<circle cx="504.5" cy="2024.8" r="2.6" fill="#ffff00"/>
<circle cx="567.9" cy="1996.9" r="2.6" fill="#ffff00"/>
<rect x="402.9" y="1872.7" width="203.2" height="208.1" fill="none" stroke="#7a7a7a" stroke-width="1.3"/>
<line x1="399.4" y1="1885" x2="402.9" y2="1885" stroke="#999" stroke-width="0.9"/>
<text x="397.9" y="1887.95" font-size="8.2" text-anchor="end" fill="#999">2</text>
<line x1="399.4" y1="1935.8" x2="402.9" y2="1935.8" stroke="#999" stroke-width="0.9"/>
<text x="397.9" y="1938.75" font-size="8.2" text-anchor="end" fill="#999">1</text>
<line x1="399.4" y1="1986.9" x2="402.9" y2="1986.9" stroke="#999" stroke-width="0.9"/>
<text x="397.9" y="1989.85" font-size="8.2" text-anchor="end" fill="#999">0</text>
<line x1="399.4" y1="2038.5" x2="402.9" y2="2038.5" stroke="#999" stroke-width="0.9"/>
<text x="397.9" y="2041.45" font-size="8.2" text-anchor="end" fill="#999">-1</text>
<line x1="441" y1="2080.8" x2="441" y2="2084.3" stroke="#999" stroke-width="0.9"/>
<text transform="translate(444.9 2087.3) rotate(-90)" font-size="11.3" text-anchor="end" fill="#111" textLength="38" lengthAdjust="spacingAndGlyphs">Control</text>
<line x1="504.5" y1="2080.8" x2="504.5" y2="2084.3" stroke="#999" stroke-width="0.9"/>
<text transform="translate(508.4 2087.3) rotate(-90)" font-size="11.3" text-anchor="end" fill="#111" textLength="20.8" lengthAdjust="spacingAndGlyphs">DSS</text>
<line x1="567.9" y1="2080.8" x2="567.9" y2="2084.3" stroke="#999" stroke-width="0.9"/>
<text transform="translate(571.8 2087.3) rotate(-90)" font-size="11.3" text-anchor="end" fill="#111" textLength="60" lengthAdjust="spacingAndGlyphs">DSS+Cedrol</text>
<text x="498.5" y="1856.6" font-size="18.9" text-anchor="middle" font-weight="bold" fill="#111">Aspartate</text>
<text transform="translate(374.74 1978.15) rotate(-90)" font-size="19" text-anchor="middle" font-weight="bold" fill="#111">Normalized content</text>
<text x="503.9" y="1982" font-size="20" text-anchor="middle" fill="#222">#</text>
<line x1="703.15" y1="1882.1" x2="703.15" y2="1897.4" stroke="#555" stroke-width="1.3"/>
<rect x="679.2" y="1897.4" width="47.9" height="15.3" fill="#e3174a" stroke="#3a3a3a" stroke-width="1.2"/>
<line x1="679.2" y1="1911.5" x2="727.1" y2="1911.5" stroke="#333" stroke-width="2.6"/>
<rect x="742.4" y="2037.7" width="48.4" height="10.2" fill="#3cb44b" stroke="#3a3a3a" stroke-width="1.2"/>
<line x1="742.4" y1="2046.8" x2="790.8" y2="2046.8" stroke="#333" stroke-width="2.6"/>
<line x1="829.9" y1="1898.7" x2="829.9" y2="1950.6" stroke="#555" stroke-width="1.3"/>
<rect x="806.1" y="1950.6" width="47.6" height="40.4" fill="#4262d6" stroke="#3a3a3a" stroke-width="1.2"/>
<line x1="806.1" y1="1979.4" x2="853.7" y2="1979.4" stroke="#333" stroke-width="2.6"/>
<circle cx="722.7" cy="1882.1" r="1.9" fill="#000"/>
<circle cx="714.2" cy="1896.9" r="1.9" fill="#000"/>
<circle cx="690" cy="1914.4" r="1.9" fill="#000"/>
<circle cx="720.3" cy="1912.3" r="1.9" fill="#000"/>
<circle cx="705" cy="1961.9" r="1.9" fill="#000"/>
<circle cx="754.2" cy="1969.7" r="1.9" fill="#000"/>
<circle cx="772.3" cy="2038.2" r="1.9" fill="#000"/>
<circle cx="752.9" cy="2047.9" r="1.9" fill="#000"/>
<circle cx="781.9" cy="2048.2" r="1.9" fill="#000"/>
<circle cx="767.1" cy="2072.4" r="1.9" fill="#000"/>
<circle cx="851.6" cy="1899" r="1.9" fill="#000"/>
<circle cx="845.2" cy="1951.5" r="1.9" fill="#000"/>
<circle cx="831.5" cy="1979.4" r="1.9" fill="#000"/>
<circle cx="823.9" cy="1991.5" r="1.9" fill="#000"/>
<circle cx="840.5" cy="2058.4" r="1.9" fill="#000"/>
<circle cx="702.9" cy="1913.5" r="2.6" fill="#ffff00"/>
<circle cx="766.3" cy="2035.3" r="2.6" fill="#ffff00"/>
<circle cx="829.8" cy="1975.6" r="2.6" fill="#ffff00"/>
<rect x="665.3" y="1872.7" width="202.4" height="208.1" fill="none" stroke="#7a7a7a" stroke-width="1.3"/>
<line x1="661.8" y1="1908.7" x2="665.3" y2="1908.7" stroke="#999" stroke-width="0.9"/>
<text x="660.3" y="1911.65" font-size="8.2" text-anchor="end" fill="#999">1</text>
<line x1="661.8" y1="1974.8" x2="665.3" y2="1974.8" stroke="#999" stroke-width="0.9"/>
<text x="660.3" y="1977.75" font-size="8.2" text-anchor="end" fill="#999">0</text>
<line x1="661.8" y1="2041" x2="665.3" y2="2041" stroke="#999" stroke-width="0.9"/>
<text x="660.3" y="2043.95" font-size="8.2" text-anchor="end" fill="#999">-1</text>
<line x1="702.9" y1="2080.8" x2="702.9" y2="2084.3" stroke="#999" stroke-width="0.9"/>
<text transform="translate(706.8 2087.3) rotate(-90)" font-size="11.3" text-anchor="end" fill="#111" textLength="38" lengthAdjust="spacingAndGlyphs">Control</text>
<line x1="766.3" y1="2080.8" x2="766.3" y2="2084.3" stroke="#999" stroke-width="0.9"/>
<text transform="translate(770.2 2087.3) rotate(-90)" font-size="11.3" text-anchor="end" fill="#111" textLength="20.8" lengthAdjust="spacingAndGlyphs">DSS</text>
<line x1="829.8" y1="2080.8" x2="829.8" y2="2084.3" stroke="#999" stroke-width="0.9"/>
<text transform="translate(833.7 2087.3) rotate(-90)" font-size="11.3" text-anchor="end" fill="#111" textLength="60" lengthAdjust="spacingAndGlyphs">DSS+Cedrol</text>
<text x="768.2" y="1856.6" font-size="18.9" text-anchor="middle" font-weight="bold" fill="#111">Creatine</text>
<text transform="translate(637.14 1978.15) rotate(-90)" font-size="19" text-anchor="middle" font-weight="bold" fill="#111">Normalized content</text>
<text x="769" y="2025.3" font-size="20" text-anchor="middle" fill="#222">##</text>
<rect x="944" y="1920.5" width="48.4" height="5.6" fill="#e3174a" stroke="#3a3a3a" stroke-width="1.2"/>
<line x1="944" y1="1921.8" x2="992.4" y2="1921.8" stroke="#333" stroke-width="2.6"/>
<line x1="1031.25" y1="1982.1" x2="1031.25" y2="1994.2" stroke="#555" stroke-width="1.3"/>
<line x1="1031.25" y1="2042.6" x2="1031.25" y2="2071.6" stroke="#555" stroke-width="1.3"/>
<rect x="1007.3" y="1994.2" width="47.9" height="48.4" fill="#3cb44b" stroke="#3a3a3a" stroke-width="1.2"/>
<line x1="1007.3" y1="2008.7" x2="1055.2" y2="2008.7" stroke="#333" stroke-width="2.6"/>
<line x1="1094.7" y1="1985.3" x2="1094.7" y2="1994.2" stroke="#555" stroke-width="1.3"/>
<rect x="1071.3" y="1961.9" width="46.8" height="23.4" fill="#4262d6" stroke="#3a3a3a" stroke-width="1.2"/>
<line x1="1071.3" y1="1983.4" x2="1118.1" y2="1983.4" stroke="#333" stroke-width="2.6"/>
<circle cx="942.4" cy="1882.1" r="1.9" fill="#000"/>
<circle cx="949.5" cy="1920" r="1.9" fill="#000"/>
<circle cx="981.5" cy="1925.6" r="1.9" fill="#000"/>
<circle cx="970.2" cy="1971.1" r="1.9" fill="#000"/>
<circle cx="962.9" cy="1923.2" r="1.9" fill="#000"/>
<circle cx="1013.7" cy="1982.1" r="1.9" fill="#000"/>
<circle cx="1021.5" cy="1994.2" r="1.9" fill="#000"/>
<circle cx="1051.6" cy="2008.7" r="1.9" fill="#000"/>
<circle cx="1050.8" cy="2042.3" r="1.9" fill="#000"/>
<circle cx="1009.7" cy="2072.4" r="1.9" fill="#000"/>
<circle cx="1077.7" cy="1918.1" r="1.9" fill="#000"/>
<circle cx="1094.4" cy="1961.9" r="1.9" fill="#000"/>
<circle cx="1108.1" cy="1985.3" r="1.9" fill="#000"/>
<circle cx="1113.2" cy="1983.2" r="1.9" fill="#000"/>
<circle cx="1115.8" cy="1994.7" r="1.9" fill="#000"/>
<circle cx="967.7" cy="1924.5" r="2.6" fill="#ffff00"/>
<circle cx="1031" cy="2020" r="2.6" fill="#ffff00"/>
<circle cx="1094.4" cy="1968.7" r="2.6" fill="#ffff00"/>
<rect x="929.8" y="1872.7" width="202.5" height="208.1" fill="none" stroke="#7a7a7a" stroke-width="1.3"/>
<line x1="926.3" y1="1920.5" x2="929.8" y2="1920.5" stroke="#999" stroke-width="0.9"/>
<text x="924.8" y="1923.45" font-size="8.2" text-anchor="end" fill="#999">1</text>
<line x1="926.3" y1="1970.8" x2="929.8" y2="1970.8" stroke="#999" stroke-width="0.9"/>
<text x="924.8" y="1973.75" font-size="8.2" text-anchor="end" fill="#999">0</text>
<line x1="926.3" y1="2022.4" x2="929.8" y2="2022.4" stroke="#999" stroke-width="0.9"/>
<text x="924.8" y="2025.35" font-size="8.2" text-anchor="end" fill="#999">-1</text>
<line x1="926.3" y1="2072.9" x2="929.8" y2="2072.9" stroke="#999" stroke-width="0.9"/>
<text x="924.8" y="2075.85" font-size="8.2" text-anchor="end" fill="#999">-2</text>
<line x1="967.4" y1="2080.8" x2="967.4" y2="2084.3" stroke="#999" stroke-width="0.9"/>
<text transform="translate(971.3 2087.3) rotate(-90)" font-size="11.3" text-anchor="end" fill="#111" textLength="38" lengthAdjust="spacingAndGlyphs">Control</text>
<line x1="1031" y1="2080.8" x2="1031" y2="2084.3" stroke="#999" stroke-width="0.9"/>
<text transform="translate(1034.9 2087.3) rotate(-90)" font-size="11.3" text-anchor="end" fill="#111" textLength="20.8" lengthAdjust="spacingAndGlyphs">DSS</text>
<line x1="1094.4" y1="2080.8" x2="1094.4" y2="2084.3" stroke="#999" stroke-width="0.9"/>
<text transform="translate(1098.3 2087.3) rotate(-90)" font-size="11.3" text-anchor="end" fill="#111" textLength="60" lengthAdjust="spacingAndGlyphs">DSS+Cedrol</text>
<text x="1029" y="1856.6" font-size="18.9" text-anchor="middle" font-weight="bold" fill="#111">O-Phosphocholine</text>
<text transform="translate(902.84 1978.15) rotate(-90)" font-size="19" text-anchor="middle" font-weight="bold" fill="#111">Normalized content</text>
<text x="1032.6" y="1972.4" font-size="20" text-anchor="middle" fill="#222">##</text>
<line x1="1225.2" y1="1881.6" x2="1225.2" y2="1937.9" stroke="#555" stroke-width="1.3"/>
<line x1="1225.2" y1="1981.6" x2="1225.2" y2="1987.9" stroke="#555" stroke-width="1.3"/>
<rect x="1201.6" y="1937.9" width="47.2" height="43.7" fill="#e3174a" stroke="#3a3a3a" stroke-width="1.2"/>
<line x1="1201.6" y1="1952.1" x2="1248.8" y2="1952.1" stroke="#333" stroke-width="2.6"/>
<line x1="1288.55" y1="2028.6" x2="1288.55" y2="2040.5" stroke="#555" stroke-width="1.3"/>
<rect x="1264.8" y="2040.5" width="47.5" height="27.7" fill="#3cb44b" stroke="#3a3a3a" stroke-width="1.2"/>
<line x1="1264.8" y1="2065.5" x2="1312.3" y2="2065.5" stroke="#333" stroke-width="2.6"/>
<line x1="1351.5" y1="2018.8" x2="1351.5" y2="2033.9" stroke="#555" stroke-width="1.3"/>
<rect x="1327.5" y="2033.9" width="48" height="11.1" fill="#4262d6" stroke="#3a3a3a" stroke-width="1.2"/>
<line x1="1327.5" y1="2042" x2="1375.5" y2="2042" stroke="#333" stroke-width="2.6"/>
<circle cx="1224.3" cy="1881.6" r="1.9" fill="#000"/>
<circle cx="1224.3" cy="1937.9" r="1.9" fill="#000"/>
<circle cx="1234.5" cy="1952.5" r="1.9" fill="#000"/>
<circle cx="1219.5" cy="1982.5" r="1.9" fill="#000"/>
<circle cx="1236.8" cy="1987.9" r="1.9" fill="#000"/>
<circle cx="1305.9" cy="2029.3" r="1.9" fill="#000"/>
<circle cx="1306.4" cy="2039.3" r="1.9" fill="#000"/>
<circle cx="1298.4" cy="2065" r="1.9" fill="#000"/>
<circle cx="1280.5" cy="2069.6" r="1.9" fill="#000"/>
<circle cx="1268.6" cy="2072.1" r="1.9" fill="#000"/>
<circle cx="1329.3" cy="2018.8" r="1.9" fill="#000"/>
<circle cx="1335.5" cy="2033.9" r="1.9" fill="#000"/>
<circle cx="1340.7" cy="2041.4" r="1.9" fill="#000"/>
<circle cx="1339.5" cy="2044.6" r="1.9" fill="#000"/>
<circle cx="1330.5" cy="2066.8" r="1.9" fill="#000"/>
<circle cx="1225.2" cy="1948.6" r="2.6" fill="#ffff00"/>
<circle cx="1288.6" cy="2055.2" r="2.6" fill="#ffff00"/>
<circle cx="1352" cy="2041.1" r="2.6" fill="#ffff00"/>
<rect x="1187.3" y="1872.7" width="202.5" height="208.4" fill="none" stroke="#7a7a7a" stroke-width="1.3"/>
<line x1="1183.8" y1="1903" x2="1187.3" y2="1903" stroke="#999" stroke-width="0.9"/>
<text x="1182.3" y="1905.95" font-size="8.2" text-anchor="end" fill="#999">2</text>
<line x1="1183.8" y1="1959.3" x2="1187.3" y2="1959.3" stroke="#999" stroke-width="0.9"/>
<text x="1182.3" y="1962.25" font-size="8.2" text-anchor="end" fill="#999">1</text>
<line x1="1183.8" y1="2014.6" x2="1187.3" y2="2014.6" stroke="#999" stroke-width="0.9"/>
<text x="1182.3" y="2017.55" font-size="8.2" text-anchor="end" fill="#999">0</text>
<line x1="1183.8" y1="2070.9" x2="1187.3" y2="2070.9" stroke="#999" stroke-width="0.9"/>
<text x="1182.3" y="2073.85" font-size="8.2" text-anchor="end" fill="#999">-1</text>
<line x1="1225.2" y1="2081.1" x2="1225.2" y2="2084.6" stroke="#999" stroke-width="0.9"/>
<text transform="translate(1229.1 2087.6) rotate(-90)" font-size="11.3" text-anchor="end" fill="#111" textLength="38" lengthAdjust="spacingAndGlyphs">Control</text>
<line x1="1288.6" y1="2081.1" x2="1288.6" y2="2084.6" stroke="#999" stroke-width="0.9"/>
<text transform="translate(1292.5 2087.6) rotate(-90)" font-size="11.3" text-anchor="end" fill="#111" textLength="20.8" lengthAdjust="spacingAndGlyphs">DSS</text>
<line x1="1352" y1="2081.1" x2="1352" y2="2084.6" stroke="#999" stroke-width="0.9"/>
<text transform="translate(1355.9 2087.6) rotate(-90)" font-size="11.3" text-anchor="end" fill="#111" textLength="60" lengthAdjust="spacingAndGlyphs">DSS+Cedrol</text>
<text x="1285.9" y="1851.8" font-size="18.9" text-anchor="middle" font-weight="bold" fill="#111">sn-Glycerophosphocholine</text>
<text transform="translate(1157.94 1978.3) rotate(-90)" font-size="19" text-anchor="middle" font-weight="bold" fill="#111">Normalized content</text>
<text x="1286.8" y="2019.2" font-size="20" text-anchor="middle" fill="#222">###</text>
</svg></body></html>
